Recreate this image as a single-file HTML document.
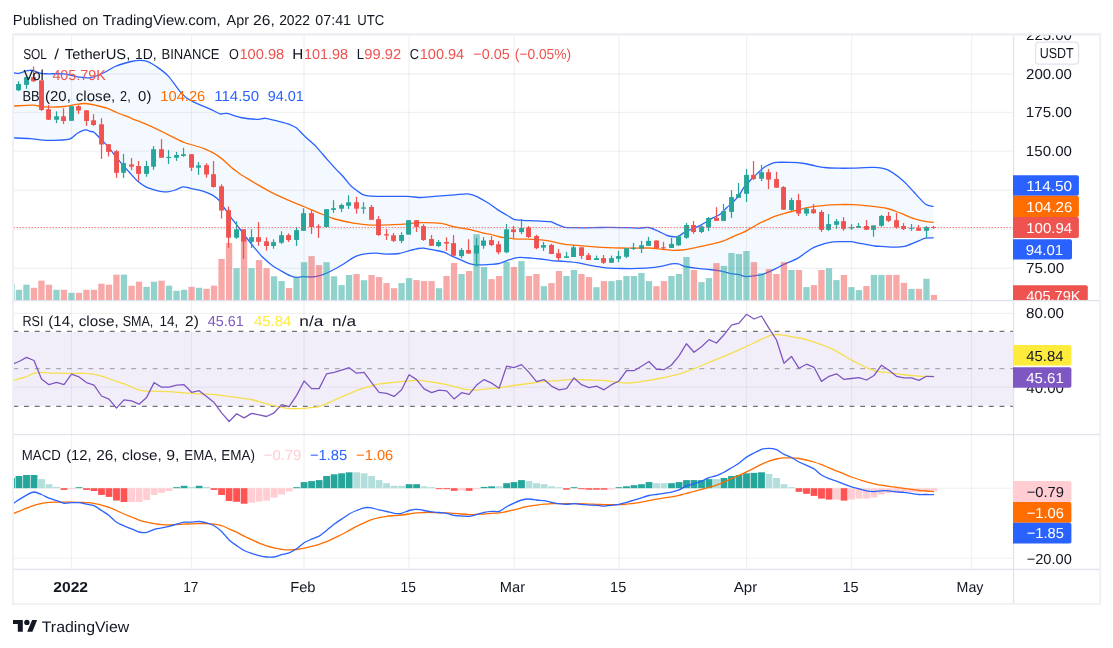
<!DOCTYPE html>
<html lang="en"><head><meta charset="utf-8"><title>SOL / TetherUS chart</title>
<style>html,body{margin:0;padding:0;background:#fff;overflow:hidden}body{width:1113px;height:648px}svg{will-change:transform}svg text{white-space:pre;text-rendering:geometricPrecision}</style>
</head><body>
<svg width="1113" height="648" viewBox="0 0 1113 648" font-family='"Liberation Sans", sans-serif' style="display:block">
<defs>
<clipPath id="cm"><rect x="13.6" y="35.6" width="999.6" height="264.6"/></clipPath>
<clipPath id="cr"><rect x="13.6" y="301" width="999.6" height="133"/></clipPath>
<clipPath id="cd"><rect x="13.6" y="435" width="999.6" height="134"/></clipPath>
<clipPath id="ca"><rect x="1012" y="35.6" width="87.5" height="264.4"/></clipPath>
<clipPath id="cb"><rect x="1014" y="301" width="85.5" height="133"/></clipPath>
</defs>
<rect x="70.95" y="35.6" width="1.2" height="533.7" fill="#2a2e39" fill-opacity="0.068"/>
<rect x="190.95" y="35.6" width="1.2" height="533.7" fill="#2a2e39" fill-opacity="0.068"/>
<rect x="303.45" y="35.6" width="1.2" height="533.7" fill="#2a2e39" fill-opacity="0.068"/>
<rect x="408.45" y="35.6" width="1.2" height="533.7" fill="#2a2e39" fill-opacity="0.068"/>
<rect x="513.45" y="35.6" width="1.2" height="533.7" fill="#2a2e39" fill-opacity="0.068"/>
<rect x="618.45" y="35.6" width="1.2" height="533.7" fill="#2a2e39" fill-opacity="0.068"/>
<rect x="745.95" y="35.6" width="1.2" height="533.7" fill="#2a2e39" fill-opacity="0.068"/>
<rect x="850.95" y="35.6" width="1.2" height="533.7" fill="#2a2e39" fill-opacity="0.068"/>
<rect x="970.95" y="35.6" width="1.2" height="533.7" fill="#2a2e39" fill-opacity="0.068"/>
<rect x="13.6" y="73.4" width="999.9" height="1.2" fill="#2a2e39" fill-opacity="0.068"/>
<rect x="13.6" y="111.8" width="999.9" height="1.2" fill="#2a2e39" fill-opacity="0.068"/>
<rect x="13.6" y="150.6" width="999.9" height="1.2" fill="#2a2e39" fill-opacity="0.068"/>
<rect x="13.6" y="189.7" width="999.9" height="1.2" fill="#2a2e39" fill-opacity="0.068"/>
<rect x="13.6" y="228.5" width="999.9" height="1.2" fill="#2a2e39" fill-opacity="0.068"/>
<rect x="13.6" y="267.7" width="999.9" height="1.2" fill="#2a2e39" fill-opacity="0.068"/>
<rect x="13.6" y="312.8" width="999.9" height="1.2" fill="#2a2e39" fill-opacity="0.068"/>
<rect x="13.6" y="386.6" width="999.9" height="1.2" fill="#2a2e39" fill-opacity="0.068"/>
<rect x="13.6" y="487.6" width="999.9" height="1.2" fill="#2a2e39" fill-opacity="0.068"/>
<rect x="13.6" y="557.6" width="999.9" height="1.2" fill="#2a2e39" fill-opacity="0.068"/>
<g clip-path="url(#cm)">
<path d="M11.0,72.4C11.3,72.4 12.0,72.5 13.0,72.6C14.0,72.7 17.2,73.6 18.8,73.4C20.4,73.2 24.5,71.4 25.9,71.0C27.3,70.6 28.7,70.4 29.6,70.3C30.6,70.2 32.0,70.2 33.4,70.6C34.8,71.0 39.0,73.0 40.9,73.4C42.8,73.8 45.5,73.7 48.4,73.8C51.3,73.9 59.9,73.5 63.9,73.9C67.9,74.3 76.7,76.7 80.1,77.2C83.5,77.7 87.8,78.2 90.9,77.6C94.0,77.0 101.2,73.9 104.3,72.5C107.4,71.1 111.7,67.9 115.1,66.5C118.5,65.1 128.1,62.3 131.3,61.5C134.5,60.7 138.0,60.4 140.0,60.4C142.0,60.4 144.9,60.4 147.2,61.3C149.5,62.2 155.3,65.7 158.0,67.6C160.7,69.5 166.1,73.6 168.8,76.6C171.5,79.6 177.2,88.2 179.5,90.9C181.8,93.6 184.9,96.7 186.7,98.1C188.5,99.5 190.7,100.6 193.9,102.1C197.1,103.6 208.6,108.3 211.9,109.8C215.2,111.3 218.1,113.4 220.0,113.9C221.9,114.4 224.6,112.9 227.2,113.4C229.8,113.9 236.9,116.8 240.6,117.5C244.3,118.2 253.6,119.2 256.8,119.3C260.0,119.4 262.8,118.0 265.8,118.3C268.8,118.6 277.2,121.1 280.2,121.8C283.2,122.5 287.1,123.4 289.1,124.2C291.1,125.0 294.2,126.2 296.3,127.8C298.4,129.4 302.8,134.4 305.3,136.8C307.8,139.2 313.4,143.8 316.1,146.6C318.8,149.4 324.4,156.3 326.9,159.2C329.4,162.0 333.9,166.9 335.9,169.1C337.9,171.3 341.1,174.2 342.9,176.2C344.7,178.2 348.7,183.4 350.0,184.9C351.3,186.4 351.9,186.9 353.5,188.1C355.1,189.3 360.7,193.6 362.9,194.6C365.1,195.6 367.9,196.0 371.0,196.2C374.1,196.4 382.6,196.4 387.2,196.4C391.8,196.4 403.1,196.3 407.4,196.4C411.7,196.5 417.5,197.5 420.9,197.5C424.3,197.5 430.0,196.7 434.3,196.4C438.6,196.1 450.3,195.1 454.6,194.8C458.9,194.5 465.1,193.6 468.0,193.9C470.9,194.2 474.8,195.5 477.5,196.8C480.2,198.1 486.9,202.2 489.4,203.8C491.9,205.4 495.3,208.2 497.5,209.6C499.7,211.0 504.9,214.0 507.0,215.2C509.1,216.4 511.7,218.7 513.7,219.3C515.7,219.9 520.2,220.1 523.1,220.3C526.0,220.5 533.2,220.7 536.6,220.9C540.0,221.1 547.5,221.3 550.1,221.7C552.7,222.1 554.9,223.7 556.8,224.4C558.7,225.1 562.7,226.9 564.9,227.3C567.1,227.7 570.5,227.6 574.3,227.7C578.1,227.8 590.3,227.8 594.6,227.7C598.9,227.6 603.7,227.3 608.0,227.3C612.3,227.3 624.5,227.6 628.5,227.7C632.5,227.8 636.7,228.1 639.3,228.1C641.9,228.1 646.3,227.1 648.7,227.5C651.1,227.9 655.9,230.1 658.1,231.1C660.3,232.1 664.5,234.4 666.2,235.1C667.9,235.8 670.1,236.3 671.6,236.5C673.1,236.7 676.6,237.1 678.3,236.5C680.0,235.9 683.4,232.7 685.1,231.8C686.8,230.9 690.1,229.8 691.8,229.1C693.5,228.4 696.7,227.0 698.6,226.1C700.5,225.2 704.7,222.8 706.6,221.7C708.5,220.6 711.7,218.5 713.4,217.6C715.1,216.7 718.4,215.6 720.1,214.3C721.8,213.0 725.2,209.1 726.9,207.5C728.6,205.9 732.1,203.0 733.6,201.5C735.1,200.0 737.7,197.1 739.0,195.4C740.3,193.7 742.3,189.6 743.7,187.7C745.1,185.8 748.7,182.1 750.4,180.3C752.1,178.5 755.5,175.2 757.2,173.6C758.9,172.0 762.4,168.6 763.9,167.5C765.4,166.4 767.8,165.2 769.3,164.6C770.8,164.0 773.3,162.7 776.0,162.4C778.7,162.1 787.3,162.3 790.9,162.4C794.5,162.5 801.2,163.1 804.3,163.5C807.4,163.9 812.5,165.4 815.1,165.9C817.7,166.4 821.7,167.2 824.6,167.5C827.5,167.8 834.3,168.1 838.0,168.2C841.7,168.3 849.0,168.2 853.5,168.1C858.0,168.0 869.4,167.2 873.7,167.4C878.0,167.6 883.5,168.0 887.2,169.7C890.9,171.4 899.9,178.0 903.3,180.9C906.7,183.8 911.3,189.3 914.1,192.3C916.9,195.3 923.1,202.4 925.6,204.2C928.1,206.0 932.7,206.2 933.7,206.5L933.7,237.9C932.7,237.9 927.9,237.7 925.6,238.2C923.3,238.7 918.1,241.2 915.5,242.2C912.9,243.2 907.4,245.7 904.7,246.3C902.0,246.9 897.0,247.1 893.9,247.1C890.8,247.1 882.8,246.4 880.4,246.3C878.0,246.2 877.2,246.3 874.8,246.0C872.4,245.7 864.4,244.1 861.3,243.6C858.2,243.1 853.2,241.9 850.5,241.7C847.8,241.5 842.4,241.6 839.7,241.7C837.0,241.8 831.3,242.2 828.9,242.6C826.5,243.0 823.1,244.1 820.9,244.9C818.7,245.7 814.3,247.0 811.4,248.7C808.5,250.4 801.4,256.1 798.0,258.1C794.6,260.1 787.6,262.7 784.5,264.2C781.4,265.7 776.4,268.3 773.7,269.6C771.0,270.9 765.5,273.5 762.9,274.3C760.3,275.1 755.7,275.6 753.5,275.9C751.3,276.2 747.2,276.7 745.4,276.5C743.6,276.3 741.0,275.0 739.0,274.6C737.0,274.2 732.0,273.8 729.6,273.3C727.2,272.8 722.7,271.4 720.1,270.9C717.5,270.4 712.4,269.8 709.3,269.5C706.2,269.2 699.0,268.6 695.9,268.2C692.8,267.8 687.3,267.0 685.1,266.5C682.9,266.0 680.0,264.2 678.3,263.9C676.6,263.6 673.6,263.6 671.6,263.9C669.6,264.2 665.1,265.6 662.2,266.1C659.3,266.6 652.6,267.6 648.7,267.9C644.8,268.2 634.6,268.5 631.2,268.6C627.8,268.7 624.3,268.6 621.5,268.5C618.7,268.4 612.3,268.4 609.4,268.2C606.5,268.0 601.3,267.1 598.6,266.7C595.9,266.3 590.5,265.3 587.8,264.8C585.1,264.3 580.1,263.1 577.0,262.7C573.9,262.3 566.8,261.7 563.6,261.4C560.4,261.1 554.3,260.9 551.4,260.6C548.5,260.3 543.2,259.3 540.6,259.0C538.0,258.7 533.8,258.3 531.2,258.1C528.6,257.9 522.6,257.4 520.4,257.4C518.2,257.4 515.4,257.9 513.7,258.3C512.0,258.7 508.9,259.9 507.0,260.6C505.1,261.3 501.0,263.0 498.9,263.5C496.8,264.0 493.5,264.2 490.8,264.4C488.1,264.6 480.2,265.0 477.5,264.9C474.8,264.8 471.5,264.2 469.4,263.6C467.3,263.0 463.5,261.1 461.3,260.2C459.1,259.2 454.1,257.1 451.9,256.1C449.7,255.1 446.0,252.9 443.8,252.1C441.6,251.3 436.9,250.6 434.3,250.1C431.7,249.6 425.6,248.3 423.6,248.1C421.6,247.9 419.9,248.2 418.2,248.5C416.5,248.8 412.5,249.8 410.1,250.4C407.7,251.0 402.4,253.0 399.3,253.5C396.2,254.0 388.7,254.1 385.8,254.1C382.9,254.1 379.0,253.2 376.4,253.2C373.8,253.2 367.2,253.5 365.0,253.8C362.8,254.1 360.8,254.7 359.2,255.2C357.6,255.7 354.4,257.0 352.5,258.1C350.6,259.2 346.5,262.2 344.4,263.5C342.3,264.8 338.5,267.0 336.3,268.2C334.1,269.4 329.1,272.0 326.9,273.0C324.7,274.0 320.7,275.4 318.8,275.9C316.9,276.4 314.1,276.9 312.0,277.0C309.9,277.1 304.6,276.6 302.6,276.7C300.6,276.8 297.4,277.5 295.9,277.4C294.4,277.3 292.2,276.6 290.5,275.9C288.8,275.2 284.8,273.0 282.4,271.6C280.0,270.2 274.2,266.8 271.6,264.9C269.0,263.0 264.4,259.0 262.2,256.8C260.0,254.6 256.2,249.8 254.1,247.3C252.0,244.8 247.9,239.6 246.0,237.2C244.1,234.8 240.9,230.4 239.1,228.0C237.3,225.6 233.3,220.7 231.5,218.3C229.7,215.9 226.6,211.3 225.1,209.1C223.6,206.9 221.2,202.7 219.7,201.0C218.2,199.3 215.0,196.7 213.2,195.6C211.4,194.5 207.4,192.9 205.6,192.2C203.8,191.5 201.0,190.7 199.1,190.2C197.2,189.7 192.6,188.7 190.5,188.3C188.4,187.9 184.8,186.6 182.9,186.8C181.0,187.0 177.3,189.4 175.4,190.0C173.5,190.6 169.7,191.7 167.8,191.9C165.9,192.1 162.0,191.6 160.2,191.3C158.4,191.0 155.6,190.2 153.8,189.7C152.0,189.2 148.2,188.2 146.2,187.2C144.2,186.2 140.1,183.3 138.1,181.6C136.1,179.9 132.2,175.5 130.4,173.5C128.6,171.5 125.4,167.9 123.7,166.0C122.0,164.1 118.7,160.3 117.0,158.2C115.3,156.1 111.7,151.1 110.2,149.2C108.7,147.3 106.2,144.6 104.8,143.1C103.4,141.6 100.8,139.1 99.4,137.7C98.0,136.3 95.2,133.1 94.0,132.3C92.8,131.5 91.1,131.6 90.0,131.3C88.9,131.0 87.1,129.6 85.5,129.8C83.9,130.0 79.5,132.0 77.4,133.2C75.3,134.4 73.1,138.3 69.3,139.2C65.5,140.1 52.7,140.4 47.7,140.3C42.7,140.2 34.5,138.9 30.2,138.6C25.9,138.3 15.8,138.0 13.4,137.9C11.0,137.8 11.3,137.8 11.0,137.8Z" fill="#2196f3" fill-opacity="0.055" stroke="none"/>
<path d="M11.0,106.0C11.3,106.0 10.6,106.1 13.4,106.0C16.2,105.9 29.1,105.0 32.9,105.1C36.7,105.2 39.8,106.7 43.7,106.9C47.6,107.1 60.0,106.8 63.9,106.5C67.8,106.2 72.0,105.0 74.7,104.6C77.4,104.2 82.8,103.4 85.5,103.5C88.2,103.6 93.6,104.9 96.3,105.5C99.0,106.1 104.3,107.2 107.0,108.2C109.7,109.2 114.7,111.7 117.8,113.0C120.9,114.3 127.9,116.9 131.3,118.3C134.7,119.7 141.5,122.3 144.8,123.7C148.1,125.1 154.1,127.8 157.4,129.4C160.7,131.0 167.5,134.4 170.9,136.1C174.3,137.8 181.7,141.4 184.3,142.5C186.9,143.6 188.5,143.7 191.1,144.5C193.7,145.3 202.0,147.9 204.6,148.8C207.2,149.7 209.6,151.0 211.3,151.9C213.0,152.8 216.3,154.7 218.0,155.9C219.7,157.1 223.1,159.8 224.8,161.3C226.5,162.8 229.6,165.8 231.5,167.4C233.4,169.0 238.4,172.7 240.0,173.9C241.6,175.1 242.2,175.4 244.5,176.8C246.8,178.2 254.6,182.9 258.0,184.9C261.4,186.9 267.7,190.4 271.4,192.3C275.1,194.2 283.5,198.0 287.6,199.8C291.7,201.6 300.4,205.1 303.8,206.5C307.2,207.9 312.0,210.1 314.6,211.2C317.2,212.3 321.4,214.0 324.0,215.0C326.6,216.0 331.1,218.0 334.8,219.0C338.5,220.0 348.9,222.3 353.5,223.1C358.1,223.9 365.9,224.9 371.0,225.1C376.1,225.3 389.3,224.9 393.9,224.7C398.5,224.5 404.0,224.1 407.4,223.8C410.8,223.5 416.6,222.8 420.9,222.7C425.2,222.6 436.8,222.9 441.1,223.4C445.4,223.9 451.2,226.2 454.6,226.9C458.0,227.6 464.6,228.5 468.0,229.2C471.4,229.9 478.6,231.9 481.5,232.6C484.4,233.3 488.4,233.8 490.8,234.4C493.2,235.0 497.3,236.4 500.2,237.0C503.1,237.6 510.3,238.5 513.7,238.8C517.1,239.1 523.8,239.1 527.2,239.2C530.6,239.3 537.7,239.6 540.6,239.9C543.5,240.2 547.2,240.7 550.1,241.2C553.0,241.7 560.2,243.7 563.6,244.2C567.0,244.7 573.1,245.0 577.0,245.3C580.9,245.6 590.7,246.6 594.6,246.9C598.5,247.2 604.6,247.5 608.0,247.6C611.4,247.7 618.6,247.9 621.5,248.0C624.4,248.1 627.8,248.2 631.2,248.2C634.6,248.2 644.8,247.9 648.7,248.0C652.6,248.1 659.1,249.0 662.2,249.3C665.3,249.6 670.4,250.3 673.0,250.4C675.6,250.5 679.5,250.3 682.4,250.0C685.3,249.7 692.5,248.4 695.9,247.7C699.3,247.0 705.9,245.4 709.3,244.6C712.7,243.8 719.4,242.4 722.8,241.2C726.2,240.0 733.7,236.2 736.3,235.1C738.9,234.0 741.4,233.3 743.7,232.2C746.0,231.1 751.9,227.5 754.5,226.1C757.1,224.7 761.3,222.4 763.9,221.2C766.5,220.0 772.0,217.3 774.7,216.3C777.4,215.3 782.6,213.9 785.5,213.1C788.4,212.3 794.4,210.8 797.6,210.0C800.8,209.2 807.7,207.5 811.1,206.9C814.5,206.3 821.2,205.6 824.6,205.3C828.0,205.0 834.3,204.7 838.0,204.6C841.7,204.5 849.8,204.5 853.5,204.7C857.2,204.9 862.7,205.3 867.0,205.8C871.3,206.3 882.9,207.6 887.2,208.5C891.5,209.4 897.2,211.9 900.6,213.2C904.0,214.5 911.0,217.6 914.1,218.6C917.2,219.6 922.4,220.8 924.9,221.3C927.4,221.8 932.6,222.3 933.7,222.4" fill="none" stroke="#ff6d00" stroke-width="1.3" stroke-linejoin="round"/>
<path d="M11.0,72.4C11.3,72.4 12.0,72.5 13.0,72.6C14.0,72.7 17.2,73.6 18.8,73.4C20.4,73.2 24.5,71.4 25.9,71.0C27.3,70.6 28.7,70.4 29.6,70.3C30.6,70.2 32.0,70.2 33.4,70.6C34.8,71.0 39.0,73.0 40.9,73.4C42.8,73.8 45.5,73.7 48.4,73.8C51.3,73.9 59.9,73.5 63.9,73.9C67.9,74.3 76.7,76.7 80.1,77.2C83.5,77.7 87.8,78.2 90.9,77.6C94.0,77.0 101.2,73.9 104.3,72.5C107.4,71.1 111.7,67.9 115.1,66.5C118.5,65.1 128.1,62.3 131.3,61.5C134.5,60.7 138.0,60.4 140.0,60.4C142.0,60.4 144.9,60.4 147.2,61.3C149.5,62.2 155.3,65.7 158.0,67.6C160.7,69.5 166.1,73.6 168.8,76.6C171.5,79.6 177.2,88.2 179.5,90.9C181.8,93.6 184.9,96.7 186.7,98.1C188.5,99.5 190.7,100.6 193.9,102.1C197.1,103.6 208.6,108.3 211.9,109.8C215.2,111.3 218.1,113.4 220.0,113.9C221.9,114.4 224.6,112.9 227.2,113.4C229.8,113.9 236.9,116.8 240.6,117.5C244.3,118.2 253.6,119.2 256.8,119.3C260.0,119.4 262.8,118.0 265.8,118.3C268.8,118.6 277.2,121.1 280.2,121.8C283.2,122.5 287.1,123.4 289.1,124.2C291.1,125.0 294.2,126.2 296.3,127.8C298.4,129.4 302.8,134.4 305.3,136.8C307.8,139.2 313.4,143.8 316.1,146.6C318.8,149.4 324.4,156.3 326.9,159.2C329.4,162.0 333.9,166.9 335.9,169.1C337.9,171.3 341.1,174.2 342.9,176.2C344.7,178.2 348.7,183.4 350.0,184.9C351.3,186.4 351.9,186.9 353.5,188.1C355.1,189.3 360.7,193.6 362.9,194.6C365.1,195.6 367.9,196.0 371.0,196.2C374.1,196.4 382.6,196.4 387.2,196.4C391.8,196.4 403.1,196.3 407.4,196.4C411.7,196.5 417.5,197.5 420.9,197.5C424.3,197.5 430.0,196.7 434.3,196.4C438.6,196.1 450.3,195.1 454.6,194.8C458.9,194.5 465.1,193.6 468.0,193.9C470.9,194.2 474.8,195.5 477.5,196.8C480.2,198.1 486.9,202.2 489.4,203.8C491.9,205.4 495.3,208.2 497.5,209.6C499.7,211.0 504.9,214.0 507.0,215.2C509.1,216.4 511.7,218.7 513.7,219.3C515.7,219.9 520.2,220.1 523.1,220.3C526.0,220.5 533.2,220.7 536.6,220.9C540.0,221.1 547.5,221.3 550.1,221.7C552.7,222.1 554.9,223.7 556.8,224.4C558.7,225.1 562.7,226.9 564.9,227.3C567.1,227.7 570.5,227.6 574.3,227.7C578.1,227.8 590.3,227.8 594.6,227.7C598.9,227.6 603.7,227.3 608.0,227.3C612.3,227.3 624.5,227.6 628.5,227.7C632.5,227.8 636.7,228.1 639.3,228.1C641.9,228.1 646.3,227.1 648.7,227.5C651.1,227.9 655.9,230.1 658.1,231.1C660.3,232.1 664.5,234.4 666.2,235.1C667.9,235.8 670.1,236.3 671.6,236.5C673.1,236.7 676.6,237.1 678.3,236.5C680.0,235.9 683.4,232.7 685.1,231.8C686.8,230.9 690.1,229.8 691.8,229.1C693.5,228.4 696.7,227.0 698.6,226.1C700.5,225.2 704.7,222.8 706.6,221.7C708.5,220.6 711.7,218.5 713.4,217.6C715.1,216.7 718.4,215.6 720.1,214.3C721.8,213.0 725.2,209.1 726.9,207.5C728.6,205.9 732.1,203.0 733.6,201.5C735.1,200.0 737.7,197.1 739.0,195.4C740.3,193.7 742.3,189.6 743.7,187.7C745.1,185.8 748.7,182.1 750.4,180.3C752.1,178.5 755.5,175.2 757.2,173.6C758.9,172.0 762.4,168.6 763.9,167.5C765.4,166.4 767.8,165.2 769.3,164.6C770.8,164.0 773.3,162.7 776.0,162.4C778.7,162.1 787.3,162.3 790.9,162.4C794.5,162.5 801.2,163.1 804.3,163.5C807.4,163.9 812.5,165.4 815.1,165.9C817.7,166.4 821.7,167.2 824.6,167.5C827.5,167.8 834.3,168.1 838.0,168.2C841.7,168.3 849.0,168.2 853.5,168.1C858.0,168.0 869.4,167.2 873.7,167.4C878.0,167.6 883.5,168.0 887.2,169.7C890.9,171.4 899.9,178.0 903.3,180.9C906.7,183.8 911.3,189.3 914.1,192.3C916.9,195.3 923.1,202.4 925.6,204.2C928.1,206.0 932.7,206.2 933.7,206.5" fill="none" stroke="#2962ff" stroke-width="1.3" stroke-linejoin="round"/>
<path d="M11.0,137.8C11.3,137.8 11.0,137.8 13.4,137.9C15.8,138.0 25.9,138.3 30.2,138.6C34.5,138.9 42.7,140.2 47.7,140.3C52.7,140.4 65.5,140.1 69.3,139.2C73.1,138.3 75.3,134.4 77.4,133.2C79.5,132.0 83.9,130.0 85.5,129.8C87.1,129.6 88.9,131.0 90.0,131.3C91.1,131.6 92.8,131.5 94.0,132.3C95.2,133.1 98.0,136.3 99.4,137.7C100.8,139.1 103.4,141.6 104.8,143.1C106.2,144.6 108.7,147.3 110.2,149.2C111.7,151.1 115.3,156.1 117.0,158.2C118.7,160.3 122.0,164.1 123.7,166.0C125.4,167.9 128.6,171.5 130.4,173.5C132.2,175.5 136.1,179.9 138.1,181.6C140.1,183.3 144.2,186.2 146.2,187.2C148.2,188.2 152.0,189.2 153.8,189.7C155.6,190.2 158.4,191.0 160.2,191.3C162.0,191.6 165.9,192.1 167.8,191.9C169.7,191.7 173.5,190.6 175.4,190.0C177.3,189.4 181.0,187.0 182.9,186.8C184.8,186.6 188.4,187.9 190.5,188.3C192.6,188.7 197.2,189.7 199.1,190.2C201.0,190.7 203.8,191.5 205.6,192.2C207.4,192.9 211.4,194.5 213.2,195.6C215.0,196.7 218.2,199.3 219.7,201.0C221.2,202.7 223.6,206.9 225.1,209.1C226.6,211.3 229.7,215.9 231.5,218.3C233.3,220.7 237.3,225.6 239.1,228.0C240.9,230.4 244.1,234.8 246.0,237.2C247.9,239.6 252.0,244.8 254.1,247.3C256.2,249.8 260.0,254.6 262.2,256.8C264.4,259.0 269.0,263.0 271.6,264.9C274.2,266.8 280.0,270.2 282.4,271.6C284.8,273.0 288.8,275.2 290.5,275.9C292.2,276.6 294.4,277.3 295.9,277.4C297.4,277.5 300.6,276.8 302.6,276.7C304.6,276.6 309.9,277.1 312.0,277.0C314.1,276.9 316.9,276.4 318.8,275.9C320.7,275.4 324.7,274.0 326.9,273.0C329.1,272.0 334.1,269.4 336.3,268.2C338.5,267.0 342.3,264.8 344.4,263.5C346.5,262.2 350.6,259.2 352.5,258.1C354.4,257.0 357.6,255.7 359.2,255.2C360.8,254.7 362.8,254.1 365.0,253.8C367.2,253.5 373.8,253.2 376.4,253.2C379.0,253.2 382.9,254.1 385.8,254.1C388.7,254.1 396.2,254.0 399.3,253.5C402.4,253.0 407.7,251.0 410.1,250.4C412.5,249.8 416.5,248.8 418.2,248.5C419.9,248.2 421.6,247.9 423.6,248.1C425.6,248.3 431.7,249.6 434.3,250.1C436.9,250.6 441.6,251.3 443.8,252.1C446.0,252.9 449.7,255.1 451.9,256.1C454.1,257.1 459.1,259.2 461.3,260.2C463.5,261.1 467.3,263.0 469.4,263.6C471.5,264.2 474.8,264.8 477.5,264.9C480.2,265.0 488.1,264.6 490.8,264.4C493.5,264.2 496.8,264.0 498.9,263.5C501.0,263.0 505.1,261.3 507.0,260.6C508.9,259.9 512.0,258.7 513.7,258.3C515.4,257.9 518.2,257.4 520.4,257.4C522.6,257.4 528.6,257.9 531.2,258.1C533.8,258.3 538.0,258.7 540.6,259.0C543.2,259.3 548.5,260.3 551.4,260.6C554.3,260.9 560.4,261.1 563.6,261.4C566.8,261.7 573.9,262.3 577.0,262.7C580.1,263.1 585.1,264.3 587.8,264.8C590.5,265.3 595.9,266.3 598.6,266.7C601.3,267.1 606.5,268.0 609.4,268.2C612.3,268.4 618.7,268.4 621.5,268.5C624.3,268.6 627.8,268.7 631.2,268.6C634.6,268.5 644.8,268.2 648.7,267.9C652.6,267.6 659.3,266.6 662.2,266.1C665.1,265.6 669.6,264.2 671.6,263.9C673.6,263.6 676.6,263.6 678.3,263.9C680.0,264.2 682.9,266.0 685.1,266.5C687.3,267.0 692.8,267.8 695.9,268.2C699.0,268.6 706.2,269.2 709.3,269.5C712.4,269.8 717.5,270.4 720.1,270.9C722.7,271.4 727.2,272.8 729.6,273.3C732.0,273.8 737.0,274.2 739.0,274.6C741.0,275.0 743.6,276.3 745.4,276.5C747.2,276.7 751.3,276.2 753.5,275.9C755.7,275.6 760.3,275.1 762.9,274.3C765.5,273.5 771.0,270.9 773.7,269.6C776.4,268.3 781.4,265.7 784.5,264.2C787.6,262.7 794.6,260.1 798.0,258.1C801.4,256.1 808.5,250.4 811.4,248.7C814.3,247.0 818.7,245.7 820.9,244.9C823.1,244.1 826.5,243.0 828.9,242.6C831.3,242.2 837.0,241.8 839.7,241.7C842.4,241.6 847.8,241.5 850.5,241.7C853.2,241.9 858.2,243.1 861.3,243.6C864.4,244.1 872.4,245.7 874.8,246.0C877.2,246.3 878.0,246.2 880.4,246.3C882.8,246.4 890.8,247.1 893.9,247.1C897.0,247.1 902.0,246.9 904.7,246.3C907.4,245.7 912.9,243.2 915.5,242.2C918.1,241.2 923.3,238.7 925.6,238.2C927.9,237.7 932.7,237.9 933.7,237.9" fill="none" stroke="#2962ff" stroke-width="1.3" stroke-linejoin="round"/>
<rect x="8.3" y="283.7" width="6.3" height="16.5" fill="#26a69a" fill-opacity="0.5"/>
<rect x="15.8" y="289.8" width="6.3" height="10.4" fill="#26a69a" fill-opacity="0.5"/>
<rect x="23.3" y="284.7" width="6.3" height="15.5" fill="#26a69a" fill-opacity="0.5"/>
<rect x="30.8" y="287.8" width="6.3" height="12.4" fill="#ef5350" fill-opacity="0.5"/>
<rect x="38.3" y="280.7" width="6.3" height="19.5" fill="#ef5350" fill-opacity="0.5"/>
<rect x="45.8" y="284.7" width="6.3" height="15.5" fill="#ef5350" fill-opacity="0.5"/>
<rect x="53.3" y="289.8" width="6.3" height="10.4" fill="#26a69a" fill-opacity="0.5"/>
<rect x="60.8" y="289.8" width="6.3" height="10.4" fill="#ef5350" fill-opacity="0.5"/>
<rect x="68.3" y="292.8" width="6.3" height="7.4" fill="#26a69a" fill-opacity="0.5"/>
<rect x="75.8" y="292.8" width="6.3" height="7.4" fill="#ef5350" fill-opacity="0.5"/>
<rect x="83.3" y="289.8" width="6.3" height="10.4" fill="#ef5350" fill-opacity="0.5"/>
<rect x="90.8" y="289.8" width="6.3" height="10.4" fill="#ef5350" fill-opacity="0.5"/>
<rect x="98.3" y="283.7" width="6.3" height="16.5" fill="#ef5350" fill-opacity="0.5"/>
<rect x="105.8" y="284.7" width="6.3" height="15.5" fill="#ef5350" fill-opacity="0.5"/>
<rect x="113.3" y="274.6" width="6.3" height="25.6" fill="#ef5350" fill-opacity="0.5"/>
<rect x="120.8" y="274.6" width="6.3" height="25.6" fill="#26a69a" fill-opacity="0.5"/>
<rect x="128.4" y="285.7" width="6.3" height="14.5" fill="#ef5350" fill-opacity="0.5"/>
<rect x="135.9" y="281.7" width="6.3" height="18.5" fill="#ef5350" fill-opacity="0.5"/>
<rect x="143.4" y="286.8" width="6.3" height="13.4" fill="#26a69a" fill-opacity="0.5"/>
<rect x="150.9" y="281.7" width="6.3" height="18.5" fill="#26a69a" fill-opacity="0.5"/>
<rect x="158.4" y="280.7" width="6.3" height="19.5" fill="#ef5350" fill-opacity="0.5"/>
<rect x="165.9" y="285.7" width="6.3" height="14.5" fill="#26a69a" fill-opacity="0.5"/>
<rect x="173.4" y="290.8" width="6.3" height="9.4" fill="#26a69a" fill-opacity="0.5"/>
<rect x="180.9" y="289.8" width="6.3" height="10.4" fill="#26a69a" fill-opacity="0.5"/>
<rect x="188.4" y="286.8" width="6.3" height="13.4" fill="#ef5350" fill-opacity="0.5"/>
<rect x="195.9" y="287.8" width="6.3" height="12.4" fill="#26a69a" fill-opacity="0.5"/>
<rect x="203.4" y="288.8" width="6.3" height="11.4" fill="#ef5350" fill-opacity="0.5"/>
<rect x="210.9" y="285.7" width="6.3" height="14.5" fill="#ef5350" fill-opacity="0.5"/>
<rect x="218.4" y="258.9" width="6.3" height="41.3" fill="#ef5350" fill-opacity="0.5"/>
<rect x="225.9" y="242.9" width="6.3" height="57.3" fill="#ef5350" fill-opacity="0.5"/>
<rect x="233.4" y="268.2" width="6.3" height="32.0" fill="#26a69a" fill-opacity="0.5"/>
<rect x="240.9" y="237.9" width="6.3" height="62.3" fill="#ef5350" fill-opacity="0.5"/>
<rect x="248.4" y="268.2" width="6.3" height="32.0" fill="#26a69a" fill-opacity="0.5"/>
<rect x="255.9" y="260.1" width="6.3" height="40.1" fill="#ef5350" fill-opacity="0.5"/>
<rect x="263.4" y="268.2" width="6.3" height="32.0" fill="#ef5350" fill-opacity="0.5"/>
<rect x="270.9" y="276.3" width="6.3" height="23.9" fill="#26a69a" fill-opacity="0.5"/>
<rect x="278.4" y="281.0" width="6.3" height="19.2" fill="#26a69a" fill-opacity="0.5"/>
<rect x="285.9" y="288.0" width="6.3" height="12.2" fill="#ef5350" fill-opacity="0.5"/>
<rect x="293.4" y="277.3" width="6.3" height="22.9" fill="#26a69a" fill-opacity="0.5"/>
<rect x="300.9" y="262.2" width="6.3" height="38.0" fill="#26a69a" fill-opacity="0.5"/>
<rect x="308.4" y="256.1" width="6.3" height="44.1" fill="#ef5350" fill-opacity="0.5"/>
<rect x="315.9" y="265.1" width="6.3" height="35.1" fill="#ef5350" fill-opacity="0.5"/>
<rect x="323.4" y="262.2" width="6.3" height="38.0" fill="#26a69a" fill-opacity="0.5"/>
<rect x="330.9" y="276.3" width="6.3" height="23.9" fill="#26a69a" fill-opacity="0.5"/>
<rect x="338.4" y="285.1" width="6.3" height="15.1" fill="#26a69a" fill-opacity="0.5"/>
<rect x="345.9" y="275.0" width="6.3" height="25.2" fill="#26a69a" fill-opacity="0.5"/>
<rect x="353.4" y="274.0" width="6.3" height="26.2" fill="#ef5350" fill-opacity="0.5"/>
<rect x="360.9" y="280.2" width="6.3" height="20.0" fill="#26a69a" fill-opacity="0.5"/>
<rect x="368.4" y="275.0" width="6.3" height="25.2" fill="#ef5350" fill-opacity="0.5"/>
<rect x="375.9" y="277.1" width="6.3" height="23.1" fill="#ef5350" fill-opacity="0.5"/>
<rect x="383.4" y="283.1" width="6.3" height="17.1" fill="#ef5350" fill-opacity="0.5"/>
<rect x="390.9" y="288.2" width="6.3" height="12.0" fill="#ef5350" fill-opacity="0.5"/>
<rect x="398.4" y="283.1" width="6.3" height="17.1" fill="#26a69a" fill-opacity="0.5"/>
<rect x="405.9" y="278.1" width="6.3" height="22.1" fill="#26a69a" fill-opacity="0.5"/>
<rect x="413.4" y="280.1" width="6.3" height="20.1" fill="#ef5350" fill-opacity="0.5"/>
<rect x="420.9" y="281.1" width="6.3" height="19.1" fill="#ef5350" fill-opacity="0.5"/>
<rect x="428.4" y="281.1" width="6.3" height="19.1" fill="#ef5350" fill-opacity="0.5"/>
<rect x="435.9" y="288.2" width="6.3" height="12.0" fill="#26a69a" fill-opacity="0.5"/>
<rect x="443.4" y="276.0" width="6.3" height="24.2" fill="#ef5350" fill-opacity="0.5"/>
<rect x="450.9" y="262.9" width="6.3" height="37.3" fill="#ef5350" fill-opacity="0.5"/>
<rect x="458.4" y="274.0" width="6.3" height="26.2" fill="#26a69a" fill-opacity="0.5"/>
<rect x="465.9" y="271.0" width="6.3" height="29.2" fill="#ef5350" fill-opacity="0.5"/>
<rect x="473.4" y="234.2" width="6.3" height="66.0" fill="#26a69a" fill-opacity="0.5"/>
<rect x="480.9" y="267.0" width="6.3" height="33.2" fill="#26a69a" fill-opacity="0.5"/>
<rect x="488.4" y="279.1" width="6.3" height="21.1" fill="#ef5350" fill-opacity="0.5"/>
<rect x="495.9" y="276.0" width="6.3" height="24.2" fill="#ef5350" fill-opacity="0.5"/>
<rect x="503.4" y="261.9" width="6.3" height="38.3" fill="#26a69a" fill-opacity="0.5"/>
<rect x="510.8" y="267.0" width="6.3" height="33.2" fill="#ef5350" fill-opacity="0.5"/>
<rect x="518.3" y="261.1" width="6.3" height="39.1" fill="#26a69a" fill-opacity="0.5"/>
<rect x="525.8" y="276.0" width="6.3" height="24.2" fill="#ef5350" fill-opacity="0.5"/>
<rect x="533.3" y="274.0" width="6.3" height="26.2" fill="#ef5350" fill-opacity="0.5"/>
<rect x="540.8" y="286.2" width="6.3" height="14.0" fill="#26a69a" fill-opacity="0.5"/>
<rect x="548.3" y="283.1" width="6.3" height="17.1" fill="#ef5350" fill-opacity="0.5"/>
<rect x="555.8" y="271.0" width="6.3" height="29.2" fill="#ef5350" fill-opacity="0.5"/>
<rect x="563.3" y="276.0" width="6.3" height="24.2" fill="#26a69a" fill-opacity="0.5"/>
<rect x="570.8" y="270.0" width="6.3" height="30.2" fill="#26a69a" fill-opacity="0.5"/>
<rect x="578.3" y="274.0" width="6.3" height="26.2" fill="#ef5350" fill-opacity="0.5"/>
<rect x="585.8" y="277.1" width="6.3" height="23.1" fill="#ef5350" fill-opacity="0.5"/>
<rect x="593.3" y="287.2" width="6.3" height="13.0" fill="#26a69a" fill-opacity="0.5"/>
<rect x="600.8" y="281.1" width="6.3" height="19.1" fill="#ef5350" fill-opacity="0.5"/>
<rect x="608.3" y="281.1" width="6.3" height="19.1" fill="#26a69a" fill-opacity="0.5"/>
<rect x="615.8" y="280.1" width="6.3" height="20.1" fill="#26a69a" fill-opacity="0.5"/>
<rect x="623.3" y="276.0" width="6.3" height="24.2" fill="#26a69a" fill-opacity="0.5"/>
<rect x="630.8" y="276.0" width="6.3" height="24.2" fill="#26a69a" fill-opacity="0.5"/>
<rect x="638.3" y="273.0" width="6.3" height="27.2" fill="#26a69a" fill-opacity="0.5"/>
<rect x="645.8" y="281.1" width="6.3" height="19.1" fill="#26a69a" fill-opacity="0.5"/>
<rect x="653.3" y="286.2" width="6.3" height="14.0" fill="#ef5350" fill-opacity="0.5"/>
<rect x="660.8" y="281.1" width="6.3" height="19.1" fill="#ef5350" fill-opacity="0.5"/>
<rect x="668.3" y="276.0" width="6.3" height="24.2" fill="#26a69a" fill-opacity="0.5"/>
<rect x="675.8" y="274.0" width="6.3" height="26.2" fill="#26a69a" fill-opacity="0.5"/>
<rect x="683.3" y="257.0" width="6.3" height="43.2" fill="#26a69a" fill-opacity="0.5"/>
<rect x="690.8" y="270.0" width="6.3" height="30.2" fill="#ef5350" fill-opacity="0.5"/>
<rect x="698.3" y="282.1" width="6.3" height="18.1" fill="#26a69a" fill-opacity="0.5"/>
<rect x="705.8" y="278.1" width="6.3" height="22.1" fill="#26a69a" fill-opacity="0.5"/>
<rect x="713.3" y="263.1" width="6.3" height="37.1" fill="#ef5350" fill-opacity="0.5"/>
<rect x="720.8" y="265.9" width="6.3" height="34.3" fill="#26a69a" fill-opacity="0.5"/>
<rect x="728.3" y="253.0" width="6.3" height="47.2" fill="#26a69a" fill-opacity="0.5"/>
<rect x="735.8" y="254.0" width="6.3" height="46.2" fill="#26a69a" fill-opacity="0.5"/>
<rect x="743.3" y="251.0" width="6.3" height="49.2" fill="#26a69a" fill-opacity="0.5"/>
<rect x="750.8" y="262.1" width="6.3" height="38.1" fill="#ef5350" fill-opacity="0.5"/>
<rect x="758.3" y="273.1" width="6.3" height="27.1" fill="#26a69a" fill-opacity="0.5"/>
<rect x="765.8" y="269.1" width="6.3" height="31.1" fill="#ef5350" fill-opacity="0.5"/>
<rect x="773.3" y="274.0" width="6.3" height="26.2" fill="#ef5350" fill-opacity="0.5"/>
<rect x="780.8" y="262.1" width="6.3" height="38.1" fill="#ef5350" fill-opacity="0.5"/>
<rect x="788.3" y="270.0" width="6.3" height="30.2" fill="#26a69a" fill-opacity="0.5"/>
<rect x="795.8" y="270.0" width="6.3" height="30.2" fill="#ef5350" fill-opacity="0.5"/>
<rect x="803.3" y="287.1" width="6.3" height="13.1" fill="#26a69a" fill-opacity="0.5"/>
<rect x="810.8" y="285.1" width="6.3" height="15.1" fill="#ef5350" fill-opacity="0.5"/>
<rect x="818.3" y="270.0" width="6.3" height="30.2" fill="#ef5350" fill-opacity="0.5"/>
<rect x="825.8" y="268.2" width="6.3" height="32.0" fill="#26a69a" fill-opacity="0.5"/>
<rect x="833.3" y="280.1" width="6.3" height="20.1" fill="#26a69a" fill-opacity="0.5"/>
<rect x="840.8" y="275.0" width="6.3" height="25.2" fill="#ef5350" fill-opacity="0.5"/>
<rect x="848.3" y="287.1" width="6.3" height="13.1" fill="#26a69a" fill-opacity="0.5"/>
<rect x="855.8" y="290.1" width="6.3" height="10.1" fill="#26a69a" fill-opacity="0.5"/>
<rect x="863.3" y="286.0" width="6.3" height="14.2" fill="#ef5350" fill-opacity="0.5"/>
<rect x="870.8" y="274.9" width="6.3" height="25.3" fill="#26a69a" fill-opacity="0.5"/>
<rect x="878.3" y="274.9" width="6.3" height="25.3" fill="#26a69a" fill-opacity="0.5"/>
<rect x="885.8" y="274.9" width="6.3" height="25.3" fill="#ef5350" fill-opacity="0.5"/>
<rect x="893.3" y="274.9" width="6.3" height="25.3" fill="#ef5350" fill-opacity="0.5"/>
<rect x="900.8" y="282.8" width="6.3" height="17.4" fill="#ef5350" fill-opacity="0.5"/>
<rect x="908.3" y="288.9" width="6.3" height="11.3" fill="#26a69a" fill-opacity="0.5"/>
<rect x="915.8" y="288.9" width="6.3" height="11.3" fill="#ef5350" fill-opacity="0.5"/>
<rect x="923.3" y="278.8" width="6.3" height="21.4" fill="#26a69a" fill-opacity="0.5"/>
<rect x="930.8" y="294.9" width="6.3" height="5.3" fill="#ef5350" fill-opacity="0.5"/>
<rect x="10.9" y="88.2" width="1.25" height="3.0" fill="#26a69a"/>
<rect x="9.08" y="88.8" width="4.9" height="1.8" fill="#26a69a"/>
<rect x="17.9" y="81.3" width="1.25" height="9.8" fill="#26a69a"/>
<rect x="16.08" y="84.0" width="4.9" height="6.3" fill="#26a69a"/>
<rect x="25.9" y="75.2" width="1.25" height="13.5" fill="#26a69a"/>
<rect x="24.08" y="77.2" width="4.9" height="7.7" fill="#26a69a"/>
<rect x="32.9" y="66.5" width="1.25" height="15.5" fill="#ef5350"/>
<rect x="31.08" y="77.2" width="4.9" height="4.1" fill="#ef5350"/>
<rect x="40.9" y="80.3" width="1.25" height="30.6" fill="#ef5350"/>
<rect x="39.08" y="80.3" width="4.9" height="29.7" fill="#ef5350"/>
<rect x="47.9" y="104.9" width="1.25" height="15.1" fill="#ef5350"/>
<rect x="46.08" y="109.2" width="4.9" height="10.5" fill="#ef5350"/>
<rect x="55.9" y="111.3" width="1.25" height="11.8" fill="#26a69a"/>
<rect x="54.08" y="116.3" width="4.9" height="3.4" fill="#26a69a"/>
<rect x="62.9" y="108.2" width="1.25" height="15.8" fill="#ef5350"/>
<rect x="61.08" y="116.3" width="4.9" height="4.7" fill="#ef5350"/>
<rect x="70.9" y="106.2" width="1.25" height="14.6" fill="#26a69a"/>
<rect x="69.08" y="106.2" width="4.9" height="14.6" fill="#26a69a"/>
<rect x="77.9" y="105.1" width="1.25" height="8.8" fill="#ef5350"/>
<rect x="76.08" y="106.2" width="4.9" height="4.3" fill="#ef5350"/>
<rect x="85.9" y="110.3" width="1.25" height="15.5" fill="#ef5350"/>
<rect x="84.08" y="110.3" width="4.9" height="10.7" fill="#ef5350"/>
<rect x="92.9" y="114.2" width="1.25" height="11.6" fill="#ef5350"/>
<rect x="91.08" y="120.3" width="4.9" height="4.7" fill="#ef5350"/>
<rect x="100.9" y="118.2" width="1.25" height="40.7" fill="#ef5350"/>
<rect x="99.08" y="124.3" width="4.9" height="20.2" fill="#ef5350"/>
<rect x="107.9" y="144.2" width="1.25" height="12.4" fill="#ef5350"/>
<rect x="106.08" y="144.2" width="4.9" height="7.7" fill="#ef5350"/>
<rect x="115.9" y="150.1" width="1.25" height="27.8" fill="#ef5350"/>
<rect x="114.08" y="151.2" width="4.9" height="21.6" fill="#ef5350"/>
<rect x="122.9" y="153.9" width="1.25" height="24.0" fill="#26a69a"/>
<rect x="121.08" y="163.1" width="4.9" height="9.7" fill="#26a69a"/>
<rect x="130.9" y="158.0" width="1.25" height="12.1" fill="#ef5350"/>
<rect x="129.08" y="164.4" width="4.9" height="2.3" fill="#ef5350"/>
<rect x="137.9" y="160.9" width="1.25" height="20.6" fill="#ef5350"/>
<rect x="136.08" y="166.0" width="4.9" height="7.9" fill="#ef5350"/>
<rect x="145.9" y="160.9" width="1.25" height="15.9" fill="#26a69a"/>
<rect x="144.08" y="166.0" width="4.9" height="7.9" fill="#26a69a"/>
<rect x="152.9" y="146.1" width="1.25" height="23.7" fill="#26a69a"/>
<rect x="151.08" y="149.2" width="4.9" height="17.5" fill="#26a69a"/>
<rect x="160.9" y="139.1" width="1.25" height="18.6" fill="#ef5350"/>
<rect x="159.08" y="149.2" width="4.9" height="8.5" fill="#ef5350"/>
<rect x="167.9" y="150.1" width="1.25" height="13.9" fill="#26a69a"/>
<rect x="166.08" y="156.9" width="4.9" height="1.1" fill="#26a69a"/>
<rect x="175.9" y="151.9" width="1.25" height="9.0" fill="#26a69a"/>
<rect x="174.08" y="155.0" width="4.9" height="2.7" fill="#26a69a"/>
<rect x="182.9" y="147.8" width="1.25" height="9.1" fill="#26a69a"/>
<rect x="181.08" y="154.2" width="4.9" height="1.7" fill="#26a69a"/>
<rect x="190.9" y="154.2" width="1.25" height="16.8" fill="#ef5350"/>
<rect x="189.08" y="154.2" width="4.9" height="13.5" fill="#ef5350"/>
<rect x="197.9" y="162.0" width="1.25" height="12.8" fill="#26a69a"/>
<rect x="196.08" y="165.4" width="4.9" height="2.3" fill="#26a69a"/>
<rect x="205.9" y="163.2" width="1.25" height="14.5" fill="#ef5350"/>
<rect x="204.08" y="165.1" width="4.9" height="9.4" fill="#ef5350"/>
<rect x="212.9" y="161.0" width="1.25" height="26.6" fill="#ef5350"/>
<rect x="211.08" y="174.2" width="4.9" height="12.8" fill="#ef5350"/>
<rect x="220.9" y="184.3" width="1.25" height="34.3" fill="#ef5350"/>
<rect x="219.08" y="186.3" width="4.9" height="24.2" fill="#ef5350"/>
<rect x="227.9" y="206.5" width="1.25" height="41.5" fill="#ef5350"/>
<rect x="226.08" y="210.1" width="4.9" height="27.6" fill="#ef5350"/>
<rect x="235.9" y="221.2" width="1.25" height="17.7" fill="#26a69a"/>
<rect x="234.08" y="229.3" width="4.9" height="8.4" fill="#26a69a"/>
<rect x="242.9" y="229.3" width="1.25" height="29.5" fill="#ef5350"/>
<rect x="241.08" y="229.3" width="4.9" height="12.3" fill="#ef5350"/>
<rect x="250.9" y="229.3" width="1.25" height="18.7" fill="#26a69a"/>
<rect x="249.08" y="237.2" width="4.9" height="4.6" fill="#26a69a"/>
<rect x="257.9" y="222.1" width="1.25" height="23.7" fill="#ef5350"/>
<rect x="256.08" y="237.2" width="4.9" height="4.6" fill="#ef5350"/>
<rect x="265.9" y="237.3" width="1.25" height="13.4" fill="#ef5350"/>
<rect x="264.08" y="241.3" width="4.9" height="4.7" fill="#ef5350"/>
<rect x="272.9" y="239.4" width="1.25" height="9.3" fill="#26a69a"/>
<rect x="271.08" y="242.1" width="4.9" height="3.9" fill="#26a69a"/>
<rect x="280.9" y="231.3" width="1.25" height="12.6" fill="#26a69a"/>
<rect x="279.08" y="235.2" width="4.9" height="7.5" fill="#26a69a"/>
<rect x="287.9" y="233.3" width="1.25" height="8.7" fill="#ef5350"/>
<rect x="286.08" y="235.1" width="4.9" height="5.0" fill="#ef5350"/>
<rect x="295.9" y="227.1" width="1.25" height="18.9" fill="#26a69a"/>
<rect x="294.08" y="230.1" width="4.9" height="9.8" fill="#26a69a"/>
<rect x="302.9" y="208.2" width="1.25" height="22.6" fill="#26a69a"/>
<rect x="301.08" y="213.2" width="4.9" height="17.6" fill="#26a69a"/>
<rect x="310.9" y="210.1" width="1.25" height="23.8" fill="#ef5350"/>
<rect x="309.08" y="213.2" width="4.9" height="13.9" fill="#ef5350"/>
<rect x="317.9" y="224.3" width="1.25" height="13.6" fill="#ef5350"/>
<rect x="316.08" y="226.3" width="4.9" height="1.0" fill="#ef5350"/>
<rect x="325.9" y="209.2" width="1.25" height="17.9" fill="#26a69a"/>
<rect x="324.08" y="209.2" width="4.9" height="17.9" fill="#26a69a"/>
<rect x="332.9" y="200.2" width="1.25" height="12.6" fill="#26a69a"/>
<rect x="331.08" y="208.2" width="4.9" height="1.7" fill="#26a69a"/>
<rect x="340.9" y="203.7" width="1.25" height="8.3" fill="#26a69a"/>
<rect x="339.08" y="205.0" width="4.9" height="3.7" fill="#26a69a"/>
<rect x="347.9" y="195.2" width="1.25" height="13.7" fill="#26a69a"/>
<rect x="346.08" y="202.3" width="4.9" height="3.5" fill="#26a69a"/>
<rect x="355.9" y="196.8" width="1.25" height="16.9" fill="#ef5350"/>
<rect x="354.08" y="202.2" width="4.9" height="6.5" fill="#ef5350"/>
<rect x="362.9" y="202.2" width="1.25" height="11.5" fill="#26a69a"/>
<rect x="361.08" y="207.4" width="4.9" height="1.3" fill="#26a69a"/>
<rect x="370.9" y="204.9" width="1.25" height="14.9" fill="#ef5350"/>
<rect x="369.08" y="207.0" width="4.9" height="12.8" fill="#ef5350"/>
<rect x="377.9" y="216.1" width="1.25" height="19.8" fill="#ef5350"/>
<rect x="376.08" y="219.1" width="4.9" height="15.9" fill="#ef5350"/>
<rect x="385.9" y="229.2" width="1.25" height="10.8" fill="#ef5350"/>
<rect x="384.08" y="234.2" width="4.9" height="1.3" fill="#ef5350"/>
<rect x="392.9" y="233.0" width="1.25" height="9.0" fill="#ef5350"/>
<rect x="391.08" y="235.3" width="4.9" height="5.6" fill="#ef5350"/>
<rect x="400.9" y="232.3" width="1.25" height="10.8" fill="#26a69a"/>
<rect x="399.08" y="235.0" width="4.9" height="5.9" fill="#26a69a"/>
<rect x="407.9" y="220.2" width="1.25" height="14.4" fill="#26a69a"/>
<rect x="406.08" y="220.2" width="4.9" height="14.4" fill="#26a69a"/>
<rect x="415.9" y="220.2" width="1.25" height="11.7" fill="#ef5350"/>
<rect x="414.08" y="220.2" width="4.9" height="6.7" fill="#ef5350"/>
<rect x="422.9" y="224.2" width="1.25" height="16.7" fill="#ef5350"/>
<rect x="421.08" y="226.1" width="4.9" height="13.9" fill="#ef5350"/>
<rect x="430.9" y="235.0" width="1.25" height="10.8" fill="#ef5350"/>
<rect x="429.08" y="239.0" width="4.9" height="6.8" fill="#ef5350"/>
<rect x="437.9" y="240.0" width="1.25" height="7.1" fill="#26a69a"/>
<rect x="436.08" y="242.0" width="4.9" height="4.0" fill="#26a69a"/>
<rect x="445.9" y="237.3" width="1.25" height="13.5" fill="#ef5350"/>
<rect x="444.08" y="242.0" width="4.9" height="1.6" fill="#ef5350"/>
<rect x="452.9" y="235.0" width="1.25" height="20.7" fill="#ef5350"/>
<rect x="451.08" y="243.1" width="4.9" height="12.6" fill="#ef5350"/>
<rect x="460.9" y="248.1" width="1.25" height="10.1" fill="#26a69a"/>
<rect x="459.08" y="250.1" width="4.9" height="6.0" fill="#26a69a"/>
<rect x="467.9" y="239.2" width="1.25" height="14.4" fill="#ef5350"/>
<rect x="466.08" y="250.0" width="4.9" height="3.6" fill="#ef5350"/>
<rect x="475.9" y="238.1" width="1.25" height="28.4" fill="#26a69a"/>
<rect x="474.08" y="245.4" width="4.9" height="8.2" fill="#26a69a"/>
<rect x="482.9" y="237.1" width="1.25" height="11.7" fill="#26a69a"/>
<rect x="481.08" y="240.5" width="4.9" height="5.3" fill="#26a69a"/>
<rect x="490.9" y="236.1" width="1.25" height="10.1" fill="#ef5350"/>
<rect x="489.08" y="240.1" width="4.9" height="5.0" fill="#ef5350"/>
<rect x="497.9" y="241.1" width="1.25" height="13.2" fill="#ef5350"/>
<rect x="496.08" y="244.2" width="4.9" height="8.1" fill="#ef5350"/>
<rect x="505.9" y="224.0" width="1.25" height="29.2" fill="#26a69a"/>
<rect x="504.08" y="229.4" width="4.9" height="22.9" fill="#26a69a"/>
<rect x="512.9" y="226.0" width="1.25" height="12.1" fill="#ef5350"/>
<rect x="511.08" y="229.4" width="4.9" height="2.7" fill="#ef5350"/>
<rect x="520.9" y="219.0" width="1.25" height="15.1" fill="#26a69a"/>
<rect x="519.08" y="228.0" width="4.9" height="4.1" fill="#26a69a"/>
<rect x="527.9" y="226.0" width="1.25" height="12.1" fill="#ef5350"/>
<rect x="526.08" y="227.7" width="4.9" height="9.3" fill="#ef5350"/>
<rect x="535.9" y="234.8" width="1.25" height="14.4" fill="#ef5350"/>
<rect x="534.08" y="236.1" width="4.9" height="12.1" fill="#ef5350"/>
<rect x="542.9" y="241.9" width="1.25" height="9.0" fill="#26a69a"/>
<rect x="541.08" y="245.1" width="4.9" height="2.5" fill="#26a69a"/>
<rect x="550.9" y="243.8" width="1.25" height="10.2" fill="#ef5350"/>
<rect x="549.08" y="244.9" width="4.9" height="9.1" fill="#ef5350"/>
<rect x="557.9" y="248.9" width="1.25" height="11.5" fill="#ef5350"/>
<rect x="556.08" y="253.2" width="4.9" height="4.9" fill="#ef5350"/>
<rect x="565.9" y="251.9" width="1.25" height="6.0" fill="#26a69a"/>
<rect x="564.08" y="256.3" width="4.9" height="1.6" fill="#26a69a"/>
<rect x="572.9" y="244.9" width="1.25" height="12.1" fill="#26a69a"/>
<rect x="571.08" y="247.3" width="4.9" height="9.7" fill="#26a69a"/>
<rect x="580.9" y="247.3" width="1.25" height="11.7" fill="#ef5350"/>
<rect x="579.08" y="247.3" width="4.9" height="8.6" fill="#ef5350"/>
<rect x="587.9" y="253.0" width="1.25" height="7.0" fill="#ef5350"/>
<rect x="586.08" y="255.2" width="4.9" height="4.8" fill="#ef5350"/>
<rect x="595.9" y="255.6" width="1.25" height="4.4" fill="#26a69a"/>
<rect x="594.08" y="258.1" width="4.9" height="1.9" fill="#26a69a"/>
<rect x="602.9" y="255.0" width="1.25" height="9.0" fill="#ef5350"/>
<rect x="601.08" y="258.1" width="4.9" height="4.6" fill="#ef5350"/>
<rect x="610.9" y="255.6" width="1.25" height="7.2" fill="#26a69a"/>
<rect x="609.08" y="258.1" width="4.9" height="4.7" fill="#26a69a"/>
<rect x="617.9" y="250.9" width="1.25" height="11.2" fill="#26a69a"/>
<rect x="616.08" y="256.1" width="4.9" height="2.7" fill="#26a69a"/>
<rect x="625.9" y="248.2" width="1.25" height="9.9" fill="#26a69a"/>
<rect x="624.08" y="248.2" width="4.9" height="8.6" fill="#26a69a"/>
<rect x="632.9" y="243.0" width="1.25" height="7.0" fill="#26a69a"/>
<rect x="631.08" y="247.7" width="4.9" height="1.3" fill="#26a69a"/>
<rect x="640.9" y="240.9" width="1.25" height="12.2" fill="#26a69a"/>
<rect x="639.08" y="245.3" width="4.9" height="3.3" fill="#26a69a"/>
<rect x="647.9" y="236.9" width="1.25" height="9.0" fill="#26a69a"/>
<rect x="646.08" y="240.9" width="4.9" height="5.0" fill="#26a69a"/>
<rect x="655.9" y="240.5" width="1.25" height="7.7" fill="#ef5350"/>
<rect x="654.08" y="240.5" width="4.9" height="7.7" fill="#ef5350"/>
<rect x="662.9" y="241.9" width="1.25" height="7.4" fill="#ef5350"/>
<rect x="661.08" y="247.3" width="4.9" height="1.1" fill="#ef5350"/>
<rect x="670.9" y="237.8" width="1.25" height="10.2" fill="#26a69a"/>
<rect x="669.08" y="243.9" width="4.9" height="4.1" fill="#26a69a"/>
<rect x="677.9" y="235.1" width="1.25" height="10.8" fill="#26a69a"/>
<rect x="676.08" y="236.5" width="4.9" height="8.8" fill="#26a69a"/>
<rect x="685.9" y="223.0" width="1.25" height="15.8" fill="#26a69a"/>
<rect x="684.08" y="225.0" width="4.9" height="12.8" fill="#26a69a"/>
<rect x="692.9" y="221.0" width="1.25" height="12.8" fill="#ef5350"/>
<rect x="691.08" y="225.0" width="4.9" height="7.0" fill="#ef5350"/>
<rect x="700.9" y="224.4" width="1.25" height="8.7" fill="#26a69a"/>
<rect x="699.08" y="226.4" width="4.9" height="5.6" fill="#26a69a"/>
<rect x="707.9" y="217.0" width="1.25" height="14.1" fill="#26a69a"/>
<rect x="706.08" y="218.0" width="4.9" height="9.5" fill="#26a69a"/>
<rect x="715.9" y="207.2" width="1.25" height="13.7" fill="#ef5350"/>
<rect x="714.08" y="218.0" width="4.9" height="2.9" fill="#ef5350"/>
<rect x="722.9" y="203.9" width="1.25" height="17.0" fill="#26a69a"/>
<rect x="721.08" y="211.0" width="4.9" height="9.9" fill="#26a69a"/>
<rect x="730.9" y="190.2" width="1.25" height="27.7" fill="#26a69a"/>
<rect x="729.08" y="197.1" width="4.9" height="14.8" fill="#26a69a"/>
<rect x="737.9" y="183.0" width="1.25" height="14.8" fill="#26a69a"/>
<rect x="736.08" y="194.1" width="4.9" height="3.7" fill="#26a69a"/>
<rect x="745.9" y="168.9" width="1.25" height="33.0" fill="#26a69a"/>
<rect x="744.08" y="174.9" width="4.9" height="18.9" fill="#26a69a"/>
<rect x="752.9" y="161.1" width="1.25" height="18.8" fill="#ef5350"/>
<rect x="751.08" y="174.9" width="4.9" height="4.1" fill="#ef5350"/>
<rect x="760.9" y="164.8" width="1.25" height="16.2" fill="#26a69a"/>
<rect x="759.08" y="172.2" width="4.9" height="6.5" fill="#26a69a"/>
<rect x="767.9" y="168.9" width="1.25" height="20.2" fill="#ef5350"/>
<rect x="766.08" y="172.2" width="4.9" height="7.4" fill="#ef5350"/>
<rect x="775.9" y="171.8" width="1.25" height="15.9" fill="#ef5350"/>
<rect x="774.08" y="179.0" width="4.9" height="8.7" fill="#ef5350"/>
<rect x="782.9" y="186.1" width="1.25" height="23.6" fill="#ef5350"/>
<rect x="781.08" y="187.1" width="4.9" height="22.6" fill="#ef5350"/>
<rect x="790.9" y="197.8" width="1.25" height="13.9" fill="#26a69a"/>
<rect x="789.08" y="200.1" width="4.9" height="9.9" fill="#26a69a"/>
<rect x="797.9" y="193.8" width="1.25" height="22.2" fill="#ef5350"/>
<rect x="796.08" y="200.1" width="4.9" height="13.5" fill="#ef5350"/>
<rect x="805.9" y="207.7" width="1.25" height="8.3" fill="#26a69a"/>
<rect x="804.08" y="208.6" width="4.9" height="5.0" fill="#26a69a"/>
<rect x="812.9" y="203.9" width="1.25" height="10.1" fill="#ef5350"/>
<rect x="811.08" y="209.3" width="4.9" height="3.8" fill="#ef5350"/>
<rect x="820.9" y="210.0" width="1.25" height="21.9" fill="#ef5350"/>
<rect x="819.08" y="212.0" width="4.9" height="17.8" fill="#ef5350"/>
<rect x="827.9" y="214.0" width="1.25" height="16.9" fill="#26a69a"/>
<rect x="826.08" y="224.1" width="4.9" height="5.7" fill="#26a69a"/>
<rect x="835.9" y="219.0" width="1.25" height="9.8" fill="#26a69a"/>
<rect x="834.08" y="221.2" width="4.9" height="3.6" fill="#26a69a"/>
<rect x="842.9" y="217.1" width="1.25" height="13.7" fill="#ef5350"/>
<rect x="841.08" y="221.2" width="4.9" height="7.7" fill="#ef5350"/>
<rect x="850.9" y="224.2" width="1.25" height="5.6" fill="#26a69a"/>
<rect x="849.08" y="227.1" width="4.9" height="1.3" fill="#26a69a"/>
<rect x="857.9" y="223.0" width="1.25" height="4.8" fill="#26a69a"/>
<rect x="856.08" y="226.0" width="4.9" height="1.8" fill="#26a69a"/>
<rect x="865.9" y="220.0" width="1.25" height="9.8" fill="#ef5350"/>
<rect x="864.08" y="226.0" width="4.9" height="3.8" fill="#ef5350"/>
<rect x="872.9" y="225.4" width="1.25" height="11.4" fill="#26a69a"/>
<rect x="871.08" y="225.4" width="4.9" height="4.4" fill="#26a69a"/>
<rect x="880.9" y="215.0" width="1.25" height="11.7" fill="#26a69a"/>
<rect x="879.08" y="215.9" width="4.9" height="9.9" fill="#26a69a"/>
<rect x="887.9" y="211.9" width="1.25" height="10.1" fill="#ef5350"/>
<rect x="886.08" y="215.9" width="4.9" height="5.0" fill="#ef5350"/>
<rect x="895.9" y="213.0" width="1.25" height="15.7" fill="#ef5350"/>
<rect x="894.08" y="220.2" width="4.9" height="7.2" fill="#ef5350"/>
<rect x="902.9" y="223.1" width="1.25" height="7.0" fill="#ef5350"/>
<rect x="901.08" y="226.0" width="4.9" height="3.0" fill="#ef5350"/>
<rect x="910.9" y="224.0" width="1.25" height="6.8" fill="#26a69a"/>
<rect x="909.08" y="227.8" width="4.9" height="1.0" fill="#26a69a"/>
<rect x="917.9" y="225.0" width="1.25" height="5.8" fill="#ef5350"/>
<rect x="916.08" y="228.1" width="4.9" height="2.7" fill="#ef5350"/>
<rect x="925.9" y="226.0" width="1.25" height="11.9" fill="#26a69a"/>
<rect x="924.08" y="227.1" width="4.9" height="3.7" fill="#26a69a"/>
<rect x="932.9" y="225.8" width="1.25" height="2.9" fill="#ef5350"/>
<rect x="931.08" y="227.0" width="4.9" height="1.0" fill="#ef5350"/>
<line x1="13.6" x2="1013.5" y1="227.5" y2="227.5" stroke="#ef5350" stroke-width="1.2" stroke-dasharray="1.1,1.9"/>
</g>
<g clip-path="url(#cr)">
<rect x="13.6" y="331.9" width="999.9" height="74" fill="#7e57c2" fill-opacity="0.1"/>
<line x1="13.3" x2="1013.5" y1="331.4" y2="331.4" stroke="#6f727d" stroke-width="1.2" stroke-dasharray="4.9,5.82"/>
<line x1="13.3" x2="1013.5" y1="406.3" y2="406.3" stroke="#6f727d" stroke-width="1.2" stroke-dasharray="4.9,5.82"/>
<line x1="13.3" x2="1013.5" y1="368.6" y2="368.6" stroke="#787b86" stroke-opacity="0.6" stroke-width="1.2" stroke-dasharray="4.9,5.82"/>
<path d="M13.0,380.4C14.6,380.0 23.3,377.8 25.9,376.9C28.5,376.0 31.5,374.0 33.4,373.4C35.3,372.8 38.0,372.4 40.9,372.4C43.8,372.4 52.1,373.1 55.9,373.2C59.7,373.3 67.1,373.4 70.9,373.4C74.7,373.4 83.1,373.3 85.9,373.4C88.8,373.5 91.5,373.9 93.4,374.2C95.3,374.5 99.0,375.4 100.9,375.9C102.8,376.4 106.5,377.9 108.4,378.5C110.3,379.1 114.0,380.3 115.9,381.0C117.8,381.7 121.5,383.0 123.4,383.7C125.3,384.4 129.0,386.0 130.9,386.8C132.8,387.6 136.6,389.3 138.5,389.8C140.4,390.3 144.1,390.9 146.0,391.1C147.9,391.3 150.7,391.0 153.5,391.1C156.3,391.2 164.7,391.5 168.5,391.7C172.3,391.9 179.7,392.6 183.5,392.9C187.3,393.2 194.7,393.7 198.5,393.9C202.3,394.1 210.7,394.1 213.5,394.3C216.3,394.5 219.1,395.1 221.0,395.4C222.9,395.7 226.6,396.1 228.5,396.4C230.4,396.7 233.2,397.0 236.0,397.4C238.8,397.8 247.2,398.7 251.0,399.5C254.8,400.3 262.3,402.6 266.1,403.6C269.9,404.6 277.9,406.7 281.1,407.3C284.3,407.9 288.8,408.6 291.6,408.7C294.5,408.8 300.2,408.6 303.6,408.3C307.0,408.0 314.8,407.7 318.6,406.7C322.4,405.7 329.8,402.1 333.6,400.5C337.4,398.9 344.8,395.5 348.6,393.9C352.4,392.3 359.8,389.4 363.6,388.2C367.4,387.0 374.8,384.8 378.6,384.1C382.4,383.4 389.9,382.8 393.7,382.4C397.5,382.0 405.6,381.3 408.7,381.0C411.8,380.7 415.6,380.3 418.5,380.4C421.4,380.5 427.7,381.5 431.2,382.0C434.7,382.5 442.8,384.0 446.2,384.7C449.6,385.4 456.1,386.9 458.0,387.4C459.9,387.9 459.4,388.2 461.2,388.6C463.0,389.0 469.8,390.1 472.6,390.2C475.5,390.3 480.4,389.5 483.7,389.2C487.0,388.9 494.9,388.3 498.7,387.8C502.5,387.3 510.0,386.0 513.8,385.5C517.6,385.0 525.0,384.0 528.8,383.5C532.6,383.0 540.0,382.0 543.8,381.6C547.6,381.2 555.0,380.9 558.8,380.6C562.6,380.3 570.0,379.5 573.8,379.4C577.6,379.3 585.0,379.9 588.8,380.0C592.6,380.1 600.0,380.1 603.8,380.4C607.6,380.7 615.9,382.1 618.8,382.4C621.6,382.7 624.4,383.1 626.3,383.1C628.2,383.1 631.0,382.9 633.9,382.6C636.8,382.3 645.1,381.0 648.9,380.4C652.7,379.8 660.1,378.3 663.9,377.5C667.7,376.7 675.1,375.3 678.9,374.2C682.7,373.1 690.1,370.2 693.9,368.7C697.7,367.2 705.1,364.1 708.9,362.5C712.7,360.9 720.1,358.0 723.9,356.4C727.7,354.8 735.1,351.5 738.9,349.8C742.7,348.1 750.8,344.5 754.0,343.0C757.2,341.5 762.0,338.9 764.4,337.9C766.8,336.9 770.5,335.2 772.6,334.8C774.7,334.4 778.2,334.5 780.8,334.8C783.4,335.1 789.7,336.3 793.0,336.9C796.3,337.5 802.9,338.6 806.5,339.6C810.1,340.6 817.7,343.2 821.5,344.7C825.3,346.2 832.7,349.3 836.5,351.3C840.3,353.3 848.5,358.5 851.5,360.1C854.5,361.7 858.1,363.3 860.0,364.3C861.9,365.3 864.4,366.8 866.6,367.7C868.8,368.6 874.1,370.8 877.0,371.4C879.9,372.0 886.6,372.5 889.1,372.8C891.6,373.1 893.7,373.5 896.6,373.8C899.5,374.1 908.5,375.2 911.7,375.5C914.9,375.8 918.8,376.2 921.6,376.3C924.4,376.4 932.5,376.4 934.1,376.4" fill="none" stroke="#f5df4d" stroke-width="1.3"/>
<path d="M13.0,364.0L19.0,361.5L26.5,357.4L34.0,360.5L41.5,379.0L49.0,384.7L56.5,382.4L64.0,384.7L71.5,374.2L79.0,376.9L86.5,382.6L94.0,385.1L101.5,396.0L109.0,399.1L116.5,408.1L124.0,399.9L131.6,400.9L139.1,404.2L146.6,397.4L154.1,382.6L161.6,387.2L169.1,387.2L176.6,385.1L184.1,384.7L191.6,392.3L199.1,390.7L206.6,396.4L214.1,402.6L221.6,412.8L229.1,421.5L236.6,413.8L244.1,417.9L251.6,413.4L259.1,414.9L266.6,416.5L274.1,412.8L281.6,404.6L289.1,406.7L296.6,395.4L304.1,381.0L311.6,388.6L319.1,388.6L326.6,373.8L334.1,372.4L341.6,370.1L349.1,367.7L356.6,373.2L364.1,372.4L371.6,382.6L379.1,392.3L386.6,393.3L394.1,396.4L401.6,389.8L409.1,374.8L416.6,379.6L424.1,388.8L431.6,392.7L439.1,390.2L446.6,390.9L454.1,398.9L461.6,392.7L469.1,394.3L476.6,385.1L484.1,379.6L491.6,383.1L499.1,388.2L506.6,366.2L514.0,367.7L521.5,364.6L529.0,372.4L536.5,381.6L544.0,379.6L551.5,386.1L559.0,389.8L566.5,388.6L574.0,377.9L581.5,384.7L589.0,387.6L596.5,386.1L604.0,389.8L611.5,384.7L619.0,381.0L626.5,370.7L634.0,370.7L641.5,366.2L649.0,361.5L656.5,369.3L664.0,369.7L671.5,365.0L679.0,355.8L686.5,343.7L694.0,352.3L701.5,346.7L709.0,339.6L716.5,343.0L724.0,334.8L731.5,325.2L739.0,323.1L746.5,314.3L754.0,319.0L761.5,316.0L769.0,328.3L776.5,340.0L784.0,363.2L791.5,356.4L799.0,368.3L806.5,364.2L814.0,367.3L821.5,381.4L829.0,376.3L836.5,373.8L844.0,379.4L851.5,378.5L859.0,377.6L866.5,380.0L874.0,375.5L881.5,365.2L889.0,370.2L896.5,376.3L904.0,377.9L911.5,377.9L919.0,380.4L926.5,376.3L934.0,376.6" fill="none" stroke="#7e57c2" stroke-width="1.3" stroke-linejoin="round"/>
</g>
<g clip-path="url(#cd)">
<rect x="8.1" y="478.0" width="6.8" height="10.2" fill="#26a69a"/>
<rect x="15.6" y="476.0" width="6.8" height="12.2" fill="#26a69a"/>
<rect x="23.1" y="475.0" width="6.8" height="13.2" fill="#26a69a"/>
<rect x="30.6" y="475.0" width="6.8" height="13.2" fill="#26a69a"/>
<rect x="38.1" y="479.1" width="6.8" height="9.1" fill="#b2dfdb"/>
<rect x="45.6" y="484.2" width="6.8" height="4.0" fill="#b2dfdb"/>
<rect x="53.1" y="486.9" width="6.8" height="1.3" fill="#b2dfdb"/>
<rect x="60.6" y="488.2" width="6.8" height="1.7" fill="#ff5252"/>
<rect x="68.1" y="488.2" width="6.8" height="1.0" fill="#ffcdd2"/>
<rect x="75.6" y="487.2" width="6.8" height="1.0" fill="#26a69a"/>
<rect x="83.1" y="488.2" width="6.8" height="1.7" fill="#ff5252"/>
<rect x="90.6" y="488.2" width="6.8" height="2.8" fill="#ff5252"/>
<rect x="98.1" y="488.2" width="6.8" height="6.7" fill="#ff5252"/>
<rect x="105.6" y="488.2" width="6.8" height="8.7" fill="#ff5252"/>
<rect x="113.1" y="488.2" width="6.8" height="12.4" fill="#ff5252"/>
<rect x="120.6" y="488.2" width="6.8" height="13.8" fill="#ff5252"/>
<rect x="128.2" y="488.2" width="6.8" height="13.8" fill="#ffcdd2"/>
<rect x="135.7" y="488.2" width="6.8" height="13.8" fill="#ffcdd2"/>
<rect x="143.2" y="488.2" width="6.8" height="11.8" fill="#ffcdd2"/>
<rect x="150.7" y="488.2" width="6.8" height="6.8" fill="#ffcdd2"/>
<rect x="158.2" y="488.2" width="6.8" height="4.6" fill="#ffcdd2"/>
<rect x="165.7" y="488.2" width="6.8" height="2.8" fill="#ffcdd2"/>
<rect x="173.2" y="487.2" width="6.8" height="1.0" fill="#26a69a"/>
<rect x="180.7" y="485.8" width="6.8" height="2.4" fill="#26a69a"/>
<rect x="188.2" y="486.9" width="6.8" height="1.3" fill="#b2dfdb"/>
<rect x="195.7" y="485.8" width="6.8" height="2.4" fill="#26a69a"/>
<rect x="203.2" y="486.9" width="6.8" height="1.3" fill="#b2dfdb"/>
<rect x="210.7" y="488.2" width="6.8" height="1.7" fill="#ff5252"/>
<rect x="218.2" y="488.2" width="6.8" height="6.8" fill="#ff5252"/>
<rect x="225.7" y="488.2" width="6.8" height="12.8" fill="#ff5252"/>
<rect x="233.2" y="488.2" width="6.8" height="13.6" fill="#ff5252"/>
<rect x="240.7" y="488.2" width="6.8" height="15.5" fill="#ff5252"/>
<rect x="248.2" y="488.2" width="6.8" height="14.5" fill="#ffcdd2"/>
<rect x="255.7" y="488.2" width="6.8" height="13.4" fill="#ffcdd2"/>
<rect x="263.2" y="488.2" width="6.8" height="12.4" fill="#ffcdd2"/>
<rect x="270.7" y="488.2" width="6.8" height="9.3" fill="#ffcdd2"/>
<rect x="278.2" y="488.2" width="6.8" height="6.3" fill="#ffcdd2"/>
<rect x="285.7" y="488.2" width="6.8" height="3.2" fill="#ffcdd2"/>
<rect x="293.2" y="487.2" width="6.8" height="1.0" fill="#26a69a"/>
<rect x="300.7" y="482.1" width="6.8" height="6.1" fill="#26a69a"/>
<rect x="308.2" y="481.1" width="6.8" height="7.1" fill="#26a69a"/>
<rect x="315.7" y="480.1" width="6.8" height="8.1" fill="#26a69a"/>
<rect x="323.2" y="476.0" width="6.8" height="12.2" fill="#26a69a"/>
<rect x="330.7" y="474.3" width="6.8" height="13.9" fill="#26a69a"/>
<rect x="338.2" y="473.3" width="6.8" height="14.9" fill="#26a69a"/>
<rect x="345.7" y="472.3" width="6.8" height="15.9" fill="#26a69a"/>
<rect x="353.2" y="472.3" width="6.8" height="15.9" fill="#b2dfdb"/>
<rect x="360.7" y="473.3" width="6.8" height="14.9" fill="#b2dfdb"/>
<rect x="368.2" y="476.0" width="6.8" height="12.2" fill="#b2dfdb"/>
<rect x="375.7" y="480.1" width="6.8" height="8.1" fill="#b2dfdb"/>
<rect x="383.2" y="483.2" width="6.8" height="5.0" fill="#b2dfdb"/>
<rect x="390.7" y="485.8" width="6.8" height="2.4" fill="#b2dfdb"/>
<rect x="398.2" y="485.8" width="6.8" height="2.4" fill="#b2dfdb"/>
<rect x="405.7" y="484.2" width="6.8" height="4.0" fill="#26a69a"/>
<rect x="413.2" y="484.2" width="6.8" height="4.0" fill="#26a69a"/>
<rect x="420.7" y="486.3" width="6.8" height="1.9" fill="#b2dfdb"/>
<rect x="428.2" y="487.1" width="6.8" height="1.1" fill="#b2dfdb"/>
<rect x="435.7" y="488.2" width="6.8" height="1.0" fill="#ff5252"/>
<rect x="443.2" y="488.2" width="6.8" height="1.0" fill="#ff5252"/>
<rect x="450.7" y="488.2" width="6.8" height="2.6" fill="#ff5252"/>
<rect x="458.2" y="488.2" width="6.8" height="2.2" fill="#ffcdd2"/>
<rect x="465.7" y="488.2" width="6.8" height="2.6" fill="#ff5252"/>
<rect x="473.2" y="488.2" width="6.8" height="1.0" fill="#ffcdd2"/>
<rect x="480.7" y="486.9" width="6.8" height="1.3" fill="#26a69a"/>
<rect x="488.2" y="486.3" width="6.8" height="1.9" fill="#26a69a"/>
<rect x="495.7" y="486.3" width="6.8" height="1.9" fill="#b2dfdb"/>
<rect x="503.2" y="483.2" width="6.8" height="5.0" fill="#26a69a"/>
<rect x="510.6" y="482.1" width="6.8" height="6.1" fill="#26a69a"/>
<rect x="518.1" y="480.1" width="6.8" height="8.1" fill="#26a69a"/>
<rect x="525.6" y="481.1" width="6.8" height="7.1" fill="#b2dfdb"/>
<rect x="533.1" y="483.2" width="6.8" height="5.0" fill="#b2dfdb"/>
<rect x="540.6" y="484.2" width="6.8" height="4.0" fill="#b2dfdb"/>
<rect x="548.1" y="486.3" width="6.8" height="1.9" fill="#b2dfdb"/>
<rect x="555.6" y="487.2" width="6.8" height="1.0" fill="#b2dfdb"/>
<rect x="563.1" y="488.2" width="6.8" height="1.5" fill="#ff5252"/>
<rect x="570.6" y="487.2" width="6.8" height="1.0" fill="#26a69a"/>
<rect x="578.1" y="488.2" width="6.8" height="1.0" fill="#ff5252"/>
<rect x="585.6" y="488.2" width="6.8" height="1.5" fill="#ff5252"/>
<rect x="593.1" y="488.2" width="6.8" height="1.5" fill="#ff5252"/>
<rect x="600.6" y="488.2" width="6.8" height="1.5" fill="#ff5252"/>
<rect x="608.1" y="488.2" width="6.8" height="1.3" fill="#ffcdd2"/>
<rect x="615.6" y="487.2" width="6.8" height="1.0" fill="#26a69a"/>
<rect x="623.1" y="486.3" width="6.8" height="1.9" fill="#26a69a"/>
<rect x="630.6" y="485.2" width="6.8" height="3.0" fill="#26a69a"/>
<rect x="638.1" y="484.2" width="6.8" height="4.0" fill="#26a69a"/>
<rect x="645.6" y="482.1" width="6.8" height="6.1" fill="#26a69a"/>
<rect x="653.1" y="483.2" width="6.8" height="5.0" fill="#b2dfdb"/>
<rect x="660.6" y="483.2" width="6.8" height="5.0" fill="#b2dfdb"/>
<rect x="668.1" y="483.2" width="6.8" height="5.0" fill="#26a69a"/>
<rect x="675.6" y="482.1" width="6.8" height="6.1" fill="#26a69a"/>
<rect x="683.1" y="480.1" width="6.8" height="8.1" fill="#26a69a"/>
<rect x="690.6" y="480.1" width="6.8" height="8.1" fill="#26a69a"/>
<rect x="698.1" y="480.1" width="6.8" height="8.1" fill="#26a69a"/>
<rect x="705.6" y="479.1" width="6.8" height="9.1" fill="#26a69a"/>
<rect x="713.1" y="479.1" width="6.8" height="9.1" fill="#b2dfdb"/>
<rect x="720.6" y="478.0" width="6.8" height="10.2" fill="#26a69a"/>
<rect x="728.1" y="476.0" width="6.8" height="12.2" fill="#26a69a"/>
<rect x="735.6" y="475.0" width="6.8" height="13.2" fill="#26a69a"/>
<rect x="743.1" y="473.3" width="6.8" height="14.9" fill="#26a69a"/>
<rect x="750.6" y="472.9" width="6.8" height="15.3" fill="#26a69a"/>
<rect x="758.1" y="472.3" width="6.8" height="15.9" fill="#26a69a"/>
<rect x="765.6" y="473.9" width="6.8" height="14.3" fill="#b2dfdb"/>
<rect x="773.1" y="478.0" width="6.8" height="10.2" fill="#b2dfdb"/>
<rect x="780.6" y="484.2" width="6.8" height="4.0" fill="#b2dfdb"/>
<rect x="788.1" y="487.1" width="6.8" height="1.1" fill="#b2dfdb"/>
<rect x="795.6" y="488.2" width="6.8" height="3.6" fill="#ff5252"/>
<rect x="803.1" y="488.2" width="6.8" height="5.6" fill="#ff5252"/>
<rect x="810.6" y="488.2" width="6.8" height="7.7" fill="#ff5252"/>
<rect x="818.1" y="488.2" width="6.8" height="10.4" fill="#ff5252"/>
<rect x="825.6" y="488.2" width="6.8" height="11.4" fill="#ff5252"/>
<rect x="833.1" y="488.2" width="6.8" height="11.4" fill="#ffcdd2"/>
<rect x="840.6" y="488.2" width="6.8" height="12.4" fill="#ff5252"/>
<rect x="848.1" y="488.2" width="6.8" height="11.4" fill="#ffcdd2"/>
<rect x="855.6" y="488.2" width="6.8" height="10.4" fill="#ffcdd2"/>
<rect x="863.1" y="488.2" width="6.8" height="10.4" fill="#ffcdd2"/>
<rect x="870.6" y="488.2" width="6.8" height="9.3" fill="#ffcdd2"/>
<rect x="878.1" y="488.2" width="6.8" height="6.3" fill="#ffcdd2"/>
<rect x="885.6" y="488.2" width="6.8" height="4.8" fill="#ffcdd2"/>
<rect x="893.1" y="488.2" width="6.8" height="4.6" fill="#ffcdd2"/>
<rect x="900.6" y="488.2" width="6.8" height="4.2" fill="#ffcdd2"/>
<rect x="908.1" y="488.2" width="6.8" height="3.8" fill="#ffcdd2"/>
<rect x="915.6" y="488.2" width="6.8" height="4.2" fill="#ffcdd2"/>
<rect x="923.1" y="488.2" width="6.8" height="3.8" fill="#ffcdd2"/>
<rect x="930.6" y="488.2" width="6.8" height="3.0" fill="#ffcdd2"/>
<path d="M13.0,514.0C13.8,513.6 17.2,512.1 19.0,511.3C20.9,510.5 24.5,509.0 26.5,508.2C28.5,507.4 32.0,506.0 34.0,505.3C36.0,504.6 39.5,503.7 41.5,503.3C43.5,502.9 47.0,502.5 49.0,502.3C51.0,502.1 54.5,502.1 56.5,502.1C58.5,502.1 62.0,502.1 64.0,502.1C66.0,502.1 69.5,502.1 71.5,502.1C73.5,502.1 77.0,502.2 79.0,502.3C81.0,502.4 84.5,502.6 86.5,502.7C88.5,502.8 92.0,503.0 94.0,503.3C96.0,503.6 99.5,504.6 101.5,505.1C103.5,505.6 107.0,506.7 109.0,507.4C111.0,508.1 114.5,509.6 116.5,510.5C118.5,511.4 122.0,513.1 124.0,514.0C126.0,514.9 129.6,516.2 131.6,517.0C133.6,517.8 137.1,519.4 139.1,520.1C141.1,520.8 144.6,521.7 146.6,522.2C148.6,522.7 152.1,523.3 154.1,523.6C156.1,523.9 159.6,524.4 161.6,524.6C163.6,524.8 167.1,524.8 169.1,524.8C171.1,524.8 174.6,524.7 176.6,524.6C178.6,524.5 182.1,524.3 184.1,524.2C186.1,524.1 189.6,523.9 191.6,523.8C193.6,523.7 197.1,523.6 199.1,523.6C201.1,523.6 204.6,523.5 206.6,523.6C208.6,523.7 212.1,523.9 214.1,524.2C216.1,524.5 219.6,525.1 221.6,525.7C223.6,526.3 227.1,528.0 229.1,528.9C231.1,529.8 234.6,531.2 236.6,532.2C238.6,533.2 242.1,535.1 244.1,536.1C246.1,537.1 249.6,538.7 251.6,539.6C253.6,540.5 257.1,542.3 259.1,543.1C261.1,543.9 264.6,545.2 266.6,545.8C268.6,546.4 272.1,547.3 274.1,547.8C276.1,548.3 279.6,549.0 281.6,549.3C283.6,549.6 287.1,549.9 289.1,549.9C291.1,549.9 294.6,549.7 296.6,549.5C298.6,549.3 302.1,548.6 304.1,548.2C306.1,547.8 309.6,546.9 311.6,546.4C313.6,545.9 317.1,544.9 319.1,544.3C321.1,543.7 324.6,542.5 326.6,541.7C328.6,540.9 332.1,539.2 334.1,538.2C336.1,537.2 339.6,535.5 341.6,534.5C343.6,533.5 347.1,531.5 349.1,530.4C351.1,529.3 354.6,527.3 356.6,526.3C358.6,525.3 362.1,523.7 364.1,522.8C366.1,521.9 369.6,520.4 371.6,519.7C373.6,519.0 377.1,518.0 379.1,517.6C381.1,517.2 384.6,516.7 386.6,516.4C388.6,516.1 392.1,515.8 394.1,515.6C396.1,515.4 399.6,515.2 401.6,515.0C403.6,514.8 407.1,514.3 409.1,514.0C411.1,513.7 414.6,513.1 416.6,512.9C418.6,512.7 422.1,512.6 424.1,512.5C426.1,512.4 429.6,512.4 431.6,512.5C433.6,512.6 437.1,512.8 439.1,512.9C441.1,513.0 444.6,512.8 446.6,512.9C448.6,513.0 452.1,513.3 454.1,513.4C456.1,513.5 459.6,513.8 461.6,514.0C463.6,514.2 467.1,514.5 469.1,514.6C471.1,514.7 474.6,514.5 476.6,514.4C478.6,514.3 482.1,514.1 484.1,514.0C486.1,513.9 489.6,513.4 491.6,513.3C493.6,513.2 497.1,513.1 499.1,512.9C501.1,512.7 504.6,511.9 506.6,511.5C508.6,511.1 512.0,510.4 514.0,509.9C516.0,509.4 519.5,508.3 521.5,507.8C523.5,507.3 527.0,506.6 529.0,506.2C531.0,505.8 534.5,505.4 536.5,505.1C538.5,504.8 542.0,504.3 544.0,504.1C546.0,503.9 549.5,503.8 551.5,503.7C553.5,503.6 557.0,503.7 559.0,503.7C561.0,503.7 564.5,503.7 566.5,503.7C568.5,503.7 572.0,503.7 574.0,503.7C576.0,503.7 579.5,503.6 581.5,503.7C583.5,503.8 587.0,504.0 589.0,504.1C591.0,504.2 594.5,504.2 596.5,504.3C598.5,504.4 602.0,504.6 604.0,504.7C606.0,504.8 609.5,504.7 611.5,504.7C613.5,504.7 617.0,504.8 619.0,504.7C621.0,504.6 624.5,504.3 626.5,504.1C628.5,503.9 632.0,503.6 634.0,503.3C636.0,503.0 639.5,502.5 641.5,502.1C643.5,501.7 647.0,501.0 649.0,500.6C651.0,500.2 654.5,499.6 656.5,499.2C658.5,498.8 662.0,498.2 664.0,497.9C666.0,497.6 669.5,497.1 671.5,496.8C673.5,496.5 677.0,495.9 679.0,495.4C681.0,494.9 684.5,493.9 686.5,493.4C688.5,492.9 692.0,491.9 694.0,491.4C696.0,490.9 699.5,489.8 701.5,489.3C703.5,488.8 707.0,487.8 709.0,487.3C711.0,486.8 714.5,485.9 716.5,485.2C718.5,484.5 722.0,483.0 724.0,482.1C726.0,481.2 729.5,479.6 731.5,478.7C733.5,477.8 737.0,476.3 739.0,475.4C741.0,474.5 744.5,472.9 746.5,471.9C748.5,470.9 752.0,469.2 754.0,468.2C756.0,467.2 759.5,465.2 761.5,464.3C763.5,463.4 767.0,461.9 769.0,461.2C771.0,460.5 774.5,459.4 776.5,459.0C778.5,458.6 782.0,458.0 784.0,457.9C786.0,457.8 789.5,457.8 791.5,457.9C793.5,458.0 797.0,458.2 799.0,458.5C801.0,458.8 804.5,459.5 806.5,460.0C808.5,460.5 812.0,461.4 814.0,462.0C816.0,462.6 819.5,463.9 821.5,464.7C823.5,465.5 827.0,467.0 829.0,467.8C831.0,468.6 834.5,470.1 836.5,470.9C838.5,471.7 842.0,473.1 844.0,473.9C846.0,474.7 849.5,476.3 851.5,477.0C853.5,477.7 857.0,478.8 859.0,479.5C861.0,480.2 864.5,481.3 866.5,481.9C868.5,482.5 872.0,483.4 874.0,483.8C876.0,484.2 879.5,484.9 881.5,485.2C883.5,485.5 887.0,486.0 889.0,486.3C891.0,486.6 894.5,487.0 896.5,487.3C898.5,487.6 902.0,488.0 904.0,488.3C906.0,488.6 909.5,489.0 911.5,489.3C913.5,489.6 917.0,490.2 919.0,490.4C921.0,490.6 924.5,490.8 926.5,491.0C928.5,491.2 933.0,491.5 934.0,491.6" fill="none" stroke="#ff6d00" stroke-width="1.3" stroke-linejoin="round"/>
<path d="M13.0,503.7C13.6,503.3 17.7,500.5 19.0,499.6C20.4,498.7 25.0,495.9 26.5,495.1C28.0,494.3 32.5,492.1 34.0,492.0C35.5,491.9 40.0,493.9 41.5,494.5C43.0,495.1 47.5,497.6 49.0,498.2C50.5,498.8 55.0,500.1 56.5,500.6C58.0,501.1 62.5,503.1 64.0,503.3C65.5,503.5 70.0,502.8 71.5,502.7C73.0,502.6 77.5,502.6 79.0,502.7C80.5,502.8 85.0,503.8 86.5,504.1C88.0,504.4 92.5,505.1 94.0,505.7C95.5,506.3 100.0,509.5 101.5,510.5C103.0,511.5 107.5,514.2 109.0,515.4C110.5,516.6 115.0,521.2 116.5,522.2C118.0,523.2 122.5,525.2 124.0,525.9C125.5,526.6 130.1,528.3 131.6,528.9C133.1,529.5 137.6,531.6 139.1,532.0C140.6,532.4 145.1,532.7 146.6,532.4C148.1,532.1 152.6,529.8 154.1,529.3C155.6,528.8 160.1,528.2 161.6,527.9C163.1,527.6 167.6,526.7 169.1,526.3C170.6,525.9 175.1,524.6 176.6,524.2C178.1,523.8 182.6,522.4 184.1,522.2C185.6,522.0 190.1,522.3 191.6,522.2C193.1,522.1 197.6,521.4 199.1,521.5C200.6,521.6 205.1,522.4 206.6,522.8C208.1,523.2 212.6,524.8 214.1,525.7C215.6,526.6 220.1,530.0 221.6,531.4C223.1,532.8 227.6,538.6 229.1,540.0C230.6,541.4 235.1,544.6 236.6,545.6C238.1,546.6 242.6,549.7 244.1,550.5C245.6,551.3 250.1,552.9 251.6,553.4C253.1,553.9 257.6,555.2 259.1,555.6C260.6,556.0 265.1,556.9 266.6,557.0C268.1,557.1 272.6,557.2 274.1,557.0C275.6,556.8 280.1,555.0 281.6,554.6C283.1,554.2 287.6,553.5 289.1,552.9C290.6,552.3 295.1,549.8 296.6,548.8C298.1,547.8 302.6,543.7 304.1,542.7C305.6,541.7 310.1,539.9 311.6,539.2C313.1,538.5 317.6,537.0 319.1,536.1C320.6,535.2 325.1,531.6 326.6,530.4C328.1,529.2 332.6,525.3 334.1,524.2C335.6,523.1 340.1,520.1 341.6,519.1C343.1,518.1 347.6,514.9 349.1,514.0C350.6,513.1 355.1,511.1 356.6,510.5C358.1,509.9 362.6,508.1 364.1,507.8C365.6,507.5 370.1,507.6 371.6,507.8C373.1,508.0 377.6,509.5 379.1,509.9C380.6,510.3 385.1,511.2 386.6,511.5C388.1,511.8 392.6,513.1 394.1,513.3C395.6,513.5 400.1,513.6 401.6,513.3C403.1,513.0 407.6,510.9 409.1,510.5C410.6,510.1 415.1,509.4 416.6,509.4C418.1,509.4 422.6,510.2 424.1,510.5C425.6,510.8 430.1,511.7 431.6,511.9C433.1,512.1 437.6,512.4 439.1,512.5C440.6,512.6 445.1,513.0 446.6,513.3C448.1,513.6 452.6,515.1 454.1,515.4C455.6,515.7 460.1,515.9 461.6,516.0C463.1,516.1 467.6,516.5 469.1,516.4C470.6,516.3 475.1,515.0 476.6,514.6C478.1,514.2 482.6,512.6 484.1,512.3C485.6,512.0 490.1,511.4 491.6,511.3C493.1,511.2 497.6,511.9 499.1,511.5C500.6,511.1 505.1,507.6 506.6,506.8C508.1,506.0 512.5,503.8 514.0,503.1C515.5,502.4 520.0,500.4 521.5,500.0C523.0,499.6 527.5,499.0 529.0,499.0C530.5,499.0 535.0,499.8 536.5,500.0C538.0,500.2 542.5,500.4 544.0,500.6C545.5,500.8 550.0,502.0 551.5,502.3C553.0,502.6 557.5,503.5 559.0,503.7C560.5,503.9 565.0,504.3 566.5,504.3C568.0,504.3 572.5,503.7 574.0,503.7C575.5,503.7 580.0,504.2 581.5,504.3C583.0,504.4 587.5,505.0 589.0,505.1C590.5,505.2 595.0,505.2 596.5,505.3C598.0,505.4 602.5,506.2 604.0,506.2C605.5,506.2 610.0,505.5 611.5,505.3C613.0,505.1 617.5,504.6 619.0,504.3C620.5,504.0 625.0,502.7 626.5,502.3C628.0,501.9 632.5,500.6 634.0,500.2C635.5,499.8 640.0,498.4 641.5,497.9C643.0,497.4 647.5,495.8 649.0,495.5C650.5,495.2 655.0,494.7 656.5,494.5C658.0,494.3 662.5,493.6 664.0,493.4C665.5,493.2 670.0,492.6 671.5,492.2C673.0,491.8 677.5,490.5 679.0,489.9C680.5,489.3 685.0,486.4 686.5,485.8C688.0,485.2 692.5,484.3 694.0,483.8C695.5,483.3 700.0,481.7 701.5,481.1C703.0,480.5 707.5,478.2 709.0,477.6C710.5,477.1 715.0,476.1 716.5,475.6C718.0,475.1 722.5,473.1 724.0,472.3C725.5,471.5 730.0,468.7 731.5,467.8C733.0,466.9 737.5,464.4 739.0,463.3C740.5,462.2 745.0,458.1 746.5,457.1C748.0,456.1 752.5,453.8 754.0,453.0C755.5,452.2 760.0,449.8 761.5,449.3C763.0,448.8 767.5,448.3 769.0,448.3C770.5,448.3 775.0,449.1 776.5,449.7C778.0,450.3 782.5,453.6 784.0,454.4C785.5,455.2 790.0,456.7 791.5,457.5C793.0,458.3 797.5,461.2 799.0,462.0C800.5,462.8 805.0,464.6 806.5,465.3C808.0,466.0 812.5,467.8 814.0,468.8C815.5,469.8 820.0,474.0 821.5,475.0C823.0,476.0 827.5,478.1 829.0,478.7C830.5,479.3 835.0,480.6 836.5,481.1C838.0,481.7 842.5,483.6 844.0,484.2C845.5,484.8 850.0,486.4 851.5,486.9C853.0,487.4 857.5,488.5 859.0,488.9C860.5,489.3 865.0,490.6 866.5,490.9C868.0,491.2 872.5,491.6 874.0,491.6C875.5,491.6 880.0,490.9 881.5,490.8C883.0,490.7 887.5,490.8 889.0,490.9C890.5,491.0 895.0,491.8 896.5,491.9C898.0,492.0 902.5,492.2 904.0,492.4C905.5,492.5 910.0,493.2 911.5,493.4C913.0,493.6 917.5,494.4 919.0,494.5C920.5,494.6 925.0,494.5 926.5,494.5C928.0,494.5 933.3,494.6 934.0,494.6" fill="none" stroke="#2962ff" stroke-width="1.3" stroke-linejoin="round"/>
</g>
<rect x="13" y="300.0" width="1087" height="1.3" fill="#e0e3eb"/>
<rect x="13" y="433.9" width="1087" height="1.3" fill="#e0e3eb"/>
<rect x="13" y="568.7" width="1087" height="1.3" fill="#e0e3eb"/>
<rect x="1012.9" y="35" width="1.3" height="568.5" fill="#e0e3eb"/>
<rect x="12" y="33" width="1089.2" height="2.8" fill="#eef0f4"/>
<rect x="12" y="33" width="2" height="571.8" fill="#eef0f4"/>
<rect x="1099.2" y="33" width="2" height="571.8" fill="#eef0f4"/>
<rect x="12" y="603" width="1089.2" height="1.8" fill="#eef0f4"/>
<g clip-path="url(#ca)">
<text x="1026.10" y="40.0" font-size="14.5" fill="#131722" textLength="45.88" lengthAdjust="spacingAndGlyphs">225.00</text>
<text x="1026.10" y="78.8" font-size="14.5" fill="#131722" textLength="45.88" lengthAdjust="spacingAndGlyphs">200.00</text>
<text x="1025.86" y="117.2" font-size="14.5" fill="#131722" textLength="46.12" lengthAdjust="spacingAndGlyphs">175.00</text>
<text x="1025.86" y="156.0" font-size="14.5" fill="#131722" textLength="46.12" lengthAdjust="spacingAndGlyphs">150.00</text>
<text x="1026.09" y="273.1" font-size="14.5" fill="#131722" textLength="38.09" lengthAdjust="spacingAndGlyphs">75.00</text>
</g>
<g clip-path="url(#cb)">
<text x="1026.13" y="317.9" font-size="14.5" fill="#131722" textLength="37.85" lengthAdjust="spacingAndGlyphs">80.00</text>
<text x="1026.37" y="392.6" font-size="14.5" fill="#131722" textLength="37.61" lengthAdjust="spacingAndGlyphs">40.00</text>
</g>
<text x="1026.72" y="563.6" font-size="14.5" fill="#131722" textLength="45.05" lengthAdjust="spacingAndGlyphs">−20.00</text>
<rect x="1035.6" y="42.2" width="43" height="22" rx="3.5" fill="#fff" stroke="#e0e3eb" stroke-width="1.2"/>
<text x="1039.72" y="58.4" font-size="14.5" fill="#131722" textLength="33.99" lengthAdjust="spacingAndGlyphs">USDT</text>
<g>
<path d="M1013,175.3H1076.9Q1078.9,175.3 1078.9,177.3V193.8Q1078.9,195.8 1076.9,195.8H1013Z" fill="#2962ff"/>
<text x="1026.24" y="190.7" font-size="14.5" fill="#fff" textLength="45.95" lengthAdjust="spacingAndGlyphs">114.50</text>
</g>
<g>
<path d="M1013,195.8H1076.9Q1078.9,195.8 1078.9,197.8V214.9Q1078.9,216.9 1076.9,216.9H1013Z" fill="#ff6d00"/>
<text x="1026.26" y="211.5" font-size="14.5" fill="#fff" textLength="46.15" lengthAdjust="spacingAndGlyphs">104.26</text>
</g>
<g>
<path d="M1013,217.0H1076.9Q1078.9,217.0 1078.9,219.0V235.9Q1078.9,237.9 1076.9,237.9H1013Z" fill="#ef5350"/>
<text x="1026.26" y="232.5" font-size="14.5" fill="#fff" textLength="45.91" lengthAdjust="spacingAndGlyphs">100.94</text>
</g>
<g>
<path d="M1013,239.2H1070.0Q1072.0,239.2 1072.0,241.2V257.6Q1072.0,259.6 1070.0,259.6H1013Z" fill="#2962ff"/>
<text x="1025.70" y="254.5" font-size="14.5" fill="#fff" textLength="37.51" lengthAdjust="spacingAndGlyphs">94.01</text>
</g>
<g clip-path="url(#ca)">
<path d="M1013,285.2H1085.8Q1087.8,285.2 1087.8,287.2V304.0Q1087.8,306.0 1085.8,306.0H1013Z" fill="#ef5350"/>
<text x="1026.17" y="300.7" font-size="14.5" fill="#fff" textLength="54.38" lengthAdjust="spacingAndGlyphs">405.79K</text>
</g>
<g>
<path d="M1013,345.1H1069.4Q1071.4,345.1 1071.4,347.1V363.6Q1071.4,365.6 1069.4,365.6H1013Z" fill="#ffeb3b"/>
<text x="1026.17" y="360.5" font-size="14.5" fill="#131722" textLength="37.41" lengthAdjust="spacingAndGlyphs">45.84</text>
</g>
<g>
<path d="M1013,367.3H1069.4Q1071.4,367.3 1071.4,369.3V385.8Q1071.4,387.8 1069.4,387.8H1013Z" fill="#7e57c2"/>
<text x="1026.16" y="382.7" font-size="14.5" fill="#fff" textLength="37.64" lengthAdjust="spacingAndGlyphs">45.61</text>
</g>
<g>
<path d="M1013,481.1H1069.4Q1071.4,481.1 1071.4,483.1V500.0Q1071.4,502.0 1069.4,502.0H1013Z" fill="#ffcdd2"/>
<text x="1026.71" y="496.7" font-size="14.5" fill="#131722" textLength="37.29" lengthAdjust="spacingAndGlyphs">−0.79</text>
</g>
<g>
<path d="M1013,502.0H1069.4Q1071.4,502.0 1071.4,504.0V520.7Q1071.4,522.7 1069.4,522.7H1013Z" fill="#ff6d00"/>
<text x="1026.71" y="517.5" font-size="14.5" fill="#fff" textLength="37.29" lengthAdjust="spacingAndGlyphs">−1.06</text>
</g>
<g>
<path d="M1013,522.7H1069.4Q1071.4,522.7 1071.4,524.7V541.6Q1071.4,543.6 1069.4,543.6H1013Z" fill="#2962ff"/>
<text x="1026.71" y="538.3" font-size="14.5" fill="#fff" textLength="37.29" lengthAdjust="spacingAndGlyphs">−1.85</text>
</g>
<text x="53.31" y="591.8" font-size="14.5" fill="#131722" font-weight="bold" textLength="34.78" lengthAdjust="spacingAndGlyphs">2022</text>
<text x="183.15" y="591.8" font-size="14.5" fill="#131722" textLength="15.21" lengthAdjust="spacingAndGlyphs">17</text>
<text x="290.15" y="591.8" font-size="14.5" fill="#131722" textLength="25.45" lengthAdjust="spacingAndGlyphs">Feb</text>
<text x="400.54" y="591.8" font-size="14.5" fill="#131722" textLength="15.32" lengthAdjust="spacingAndGlyphs">15</text>
<text x="499.86" y="591.8" font-size="14.5" fill="#131722" textLength="25.22" lengthAdjust="spacingAndGlyphs">Mar</text>
<text x="610.10" y="591.8" font-size="14.5" fill="#131722" textLength="16.09" lengthAdjust="spacingAndGlyphs">15</text>
<text x="733.80" y="591.8" font-size="14.5" fill="#131722" textLength="23.47" lengthAdjust="spacingAndGlyphs">Apr</text>
<text x="842.40" y="591.8" font-size="14.5" fill="#131722" textLength="16.09" lengthAdjust="spacingAndGlyphs">15</text>
<text x="956.59" y="591.8" font-size="14.5" fill="#131722" textLength="26.81" lengthAdjust="spacingAndGlyphs">May</text>
<text x="12.86" y="24.6" font-size="14.5" fill="#131722" textLength="64.37" lengthAdjust="spacingAndGlyphs">Published</text>
<text x="82.25" y="24.6" font-size="14.5" fill="#131722" textLength="16.17" lengthAdjust="spacingAndGlyphs">on</text>
<text x="102.77" y="24.6" font-size="14.5" fill="#131722" textLength="117.95" lengthAdjust="spacingAndGlyphs">TradingView.com,</text>
<text x="226.50" y="24.6" font-size="14.5" fill="#131722" textLength="22.47" lengthAdjust="spacingAndGlyphs">Apr</text>
<text x="253.07" y="24.6" font-size="14.5" fill="#131722" textLength="21.70" lengthAdjust="spacingAndGlyphs">26,</text>
<text x="279.15" y="24.6" font-size="14.5" fill="#131722" textLength="30.91" lengthAdjust="spacingAndGlyphs">2022</text>
<text x="315.35" y="24.6" font-size="14.5" fill="#131722" textLength="35.72" lengthAdjust="spacingAndGlyphs">07:41</text>
<text x="357.18" y="24.6" font-size="14.5" fill="#131722" textLength="26.98" lengthAdjust="spacingAndGlyphs">UTC</text>
<text x="23.13" y="58.6" font-size="14.5" fill="#131722" textLength="23.87" lengthAdjust="spacingAndGlyphs">SOL</text>
<text x="54.20" y="58.6" font-size="14.5" fill="#131722" textLength="4.74" lengthAdjust="spacingAndGlyphs">/</text>
<text x="64.77" y="58.6" font-size="14.5" fill="#131722" textLength="65.53" lengthAdjust="spacingAndGlyphs">TetherUS,</text>
<text x="134.93" y="58.6" font-size="14.5" fill="#131722" textLength="21.71" lengthAdjust="spacingAndGlyphs">1D,</text>
<text x="161.48" y="58.6" font-size="14.5" fill="#131722" textLength="58.07" lengthAdjust="spacingAndGlyphs">BINANCE</text>
<text x="229.01" y="58.6" font-size="14.5" fill="#131722" textLength="9.84" lengthAdjust="spacingAndGlyphs">O</text>
<text x="239.49" y="58.6" font-size="14.5" fill="#ef5350" textLength="44.71" lengthAdjust="spacingAndGlyphs">100.98</text>
<text x="292.21" y="58.6" font-size="14.5" fill="#131722" textLength="11.04" lengthAdjust="spacingAndGlyphs">H</text>
<text x="303.90" y="58.6" font-size="14.5" fill="#ef5350" textLength="44.08" lengthAdjust="spacingAndGlyphs">101.98</text>
<text x="356.77" y="58.6" font-size="14.5" fill="#131722" textLength="7.36" lengthAdjust="spacingAndGlyphs">L</text>
<text x="364.31" y="58.6" font-size="14.5" fill="#ef5350" textLength="36.89" lengthAdjust="spacingAndGlyphs">99.92</text>
<text x="409.80" y="58.6" font-size="14.5" fill="#131722" textLength="9.24" lengthAdjust="spacingAndGlyphs">C</text>
<text x="419.79" y="58.6" font-size="14.5" fill="#ef5350" textLength="44.37" lengthAdjust="spacingAndGlyphs">100.94</text>
<text x="473.33" y="58.6" font-size="14.5" fill="#ef5350" textLength="36.36" lengthAdjust="spacingAndGlyphs">−0.05</text>
<text x="514.85" y="58.6" font-size="14.5" fill="#ef5350" textLength="56.26" lengthAdjust="spacingAndGlyphs">(−0.05%)</text>
<text x="23.50" y="79.8" font-size="14.5" fill="#131722" textLength="20.37" lengthAdjust="spacingAndGlyphs">Vol</text>
<text x="52.38" y="79.8" font-size="14.5" fill="#ef5350" textLength="53.58" lengthAdjust="spacingAndGlyphs">405.79K</text>
<text x="22.49" y="100.9" font-size="14.5" fill="#131722" textLength="17.25" lengthAdjust="spacingAndGlyphs">BB</text>
<text x="45.10" y="100.9" font-size="14.5" fill="#131722" textLength="25.71" lengthAdjust="spacingAndGlyphs">(20,</text>
<text x="75.83" y="100.9" font-size="14.5" fill="#131722" textLength="39.40" lengthAdjust="spacingAndGlyphs">close,</text>
<text x="120.11" y="100.9" font-size="14.5" fill="#131722" textLength="10.54" lengthAdjust="spacingAndGlyphs">2,</text>
<text x="138.13" y="100.9" font-size="14.5" fill="#131722" textLength="13.24" lengthAdjust="spacingAndGlyphs">0)</text>
<text x="160.38" y="100.9" font-size="14.5" fill="#ff6d00" textLength="44.91" lengthAdjust="spacingAndGlyphs">104.26</text>
<text x="214.26" y="100.9" font-size="14.5" fill="#2962ff" textLength="44.81" lengthAdjust="spacingAndGlyphs">114.50</text>
<text x="267.72" y="100.9" font-size="14.5" fill="#2962ff" textLength="36.16" lengthAdjust="spacingAndGlyphs">94.01</text>
<text x="22.51" y="325.6" font-size="14.5" fill="#131722" textLength="21.02" lengthAdjust="spacingAndGlyphs">RSI</text>
<text x="48.29" y="325.6" font-size="14.5" fill="#131722" textLength="25.93" lengthAdjust="spacingAndGlyphs">(14,</text>
<text x="78.72" y="325.6" font-size="14.5" fill="#131722" textLength="39.92" lengthAdjust="spacingAndGlyphs">close,</text>
<text x="122.71" y="325.6" font-size="14.5" fill="#131722" textLength="30.63" lengthAdjust="spacingAndGlyphs">SMA,</text>
<text x="159.45" y="325.6" font-size="14.5" fill="#131722" textLength="18.86" lengthAdjust="spacingAndGlyphs">14,</text>
<text x="185.08" y="325.6" font-size="14.5" fill="#131722" textLength="13.72" lengthAdjust="spacingAndGlyphs">2)</text>
<text x="207.77" y="325.6" font-size="14.5" fill="#7e57c2" textLength="36.11" lengthAdjust="spacingAndGlyphs">45.61</text>
<text x="253.97" y="325.6" font-size="14.5" fill="#ffeb3b" textLength="37.41" lengthAdjust="spacingAndGlyphs">45.84</text>
<text x="299.32" y="325.6" font-size="14.5" fill="#131722" textLength="23.97" lengthAdjust="spacingAndGlyphs">n/a</text>
<text x="332.12" y="325.6" font-size="14.5" fill="#131722" textLength="23.97" lengthAdjust="spacingAndGlyphs">n/a</text>
<text x="21.87" y="460.0" font-size="14.5" fill="#131722" textLength="38.89" lengthAdjust="spacingAndGlyphs">MACD</text>
<text x="66.21" y="460.0" font-size="14.5" fill="#131722" textLength="25.39" lengthAdjust="spacingAndGlyphs">(12,</text>
<text x="96.38" y="460.0" font-size="14.5" fill="#131722" textLength="21.26" lengthAdjust="spacingAndGlyphs">26,</text>
<text x="122.02" y="460.0" font-size="14.5" fill="#131722" textLength="39.81" lengthAdjust="spacingAndGlyphs">close,</text>
<text x="166.16" y="460.0" font-size="14.5" fill="#131722" textLength="13.23" lengthAdjust="spacingAndGlyphs">9,</text>
<text x="184.36" y="460.0" font-size="14.5" fill="#131722" textLength="32.53" lengthAdjust="spacingAndGlyphs">EMA,</text>
<text x="221.15" y="460.0" font-size="14.5" fill="#131722" textLength="33.75" lengthAdjust="spacingAndGlyphs">EMA)</text>
<text x="263.80" y="460.0" font-size="14.5" fill="#ffcdd2" textLength="37.60" lengthAdjust="spacingAndGlyphs">−0.79</text>
<text x="309.91" y="460.0" font-size="14.5" fill="#2962ff" textLength="37.29" lengthAdjust="spacingAndGlyphs">−1.85</text>
<text x="356.11" y="460.0" font-size="14.5" fill="#ff6d00" textLength="37.18" lengthAdjust="spacingAndGlyphs">−1.06</text>
<g fill="#131722">
<path d="M13,620H22.8V631.7H17.8V624H13Z"/>
<circle cx="26.9" cy="622.4" r="2.7"/>
<path d="M32.1,620H37.1L32.4,631.7H27.2Z"/>
</g>
<text x="41.75" y="631.8" font-size="15.2" fill="#131722" textLength="87.45" lengthAdjust="spacingAndGlyphs">TradingView</text>
</svg>
</body></html>
